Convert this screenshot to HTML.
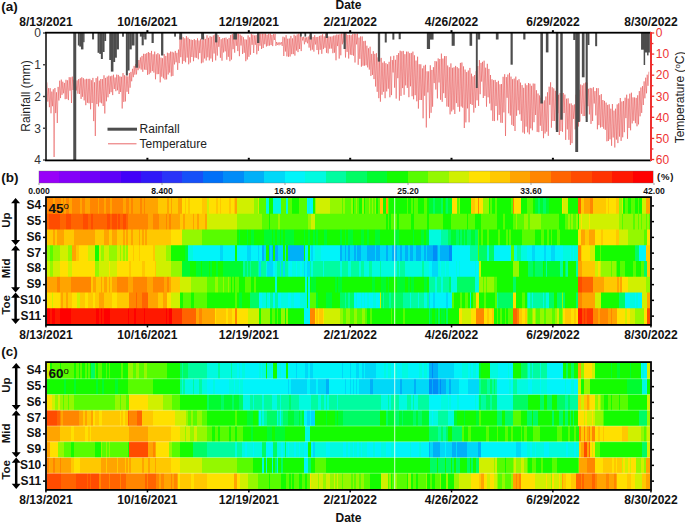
<!DOCTYPE html><html><head><meta charset="utf-8"><style>html,body{margin:0;padding:0;background:#fff}body{width:685px;height:522px;overflow:hidden}svg{display:block}text{font-family:"Liberation Sans",sans-serif}</style></head><body>
<svg width="685" height="522" viewBox="0 0 685 522">
<rect width="685" height="522" fill="#fff"/>
<text x="1.3" y="10.6" font-size="13.5" font-weight="bold" fill="#111">(a)</text>
<text x="348.5" y="9" font-size="12" font-weight="bold" text-anchor="middle" fill="#111">Date</text>
<text x="46.0" y="26" font-size="12" font-weight="bold" text-anchor="middle" fill="#111">8/13/2021</text>
<text x="147.4" y="26" font-size="12" font-weight="bold" text-anchor="middle" fill="#111">10/16/2021</text>
<text x="248.8" y="26" font-size="12" font-weight="bold" text-anchor="middle" fill="#111">12/19/2021</text>
<text x="350.2" y="26" font-size="12" font-weight="bold" text-anchor="middle" fill="#111">2/21/2022</text>
<text x="451.5" y="26" font-size="12" font-weight="bold" text-anchor="middle" fill="#111">4/26/2022</text>
<text x="552.9" y="26" font-size="12" font-weight="bold" text-anchor="middle" fill="#111">6/29/2022</text>
<text x="651.0" y="26" font-size="12" font-weight="bold" text-anchor="middle" fill="#111">8/30/2022</text>
<path d="M47.0 82.4 L47.8 101.6 L48.6 88.1 L49.4 107.2 L50.2 88.2 L51.0 113.3 L51.8 91.6 L52.5 106.2 L53.3 89.3 L54.1 157.0 L54.9 88.0 L55.7 113.1 L56.5 92.3 L57.3 123.0 L58.1 86.9 L58.9 100.5 L59.7 80.7 L60.5 98.1 L61.3 79.6 L62.0 94.8 L62.8 81.7 L63.6 93.3 L64.4 82.9 L65.2 99.2 L66.0 79.8 L66.8 98.9 L67.6 80.3 L68.4 100.1 L69.2 77.2 L70.0 90.7 L70.8 77.3 L71.5 103.0 L72.3 76.6 L73.1 90.0 L73.9 79.7 L74.7 91.9 L75.5 81.0 L76.3 90.5 L77.1 80.4 L77.9 93.7 L78.7 79.1 L79.5 94.0 L80.3 78.3 L81.1 98.9 L81.8 77.3 L82.6 96.8 L83.4 78.2 L84.2 100.4 L85.0 79.4 L85.8 105.2 L86.6 78.8 L87.4 102.8 L88.2 78.9 L89.0 103.3 L89.8 78.8 L90.6 109.3 L91.3 80.2 L92.1 103.0 L92.9 77.9 L93.7 121.1 L94.5 82.3 L95.3 136.0 L96.1 78.1 L96.9 104.1 L97.7 76.5 L98.5 106.4 L99.3 80.6 L100.1 102.5 L100.8 79.0 L101.6 103.3 L102.4 79.1 L103.2 106.0 L104.0 75.3 L104.8 113.5 L105.6 77.9 L106.4 101.3 L107.2 76.6 L108.0 97.3 L108.8 75.6 L109.6 93.9 L110.4 76.3 L111.1 92.2 L111.9 75.7 L112.7 95.1 L113.5 74.7 L114.3 89.0 L115.1 77.5 L115.9 91.2 L116.7 74.6 L117.5 90.3 L118.3 74.9 L119.1 94.0 L119.9 76.4 L120.6 92.0 L121.4 76.8 L122.2 108.5 L123.0 73.1 L123.8 101.9 L124.6 75.2 L125.4 101.4 L126.2 76.2 L127.0 91.8 L127.8 76.4 L128.6 94.0 L129.4 73.0 L130.1 87.7 L130.9 71.9 L131.7 81.3 L132.5 68.8 L133.3 77.2 L134.1 65.9 L134.9 74.7 L135.7 64.0 L136.5 74.4 L137.3 61.9 L138.1 70.2 L138.9 60.0 L139.7 68.4 L140.4 57.4 L141.2 69.6 L142.0 55.9 L142.8 71.8 L143.6 53.8 L144.4 69.6 L145.2 53.9 L146.0 69.9 L146.8 53.1 L147.6 74.9 L148.4 52.0 L149.2 74.2 L149.9 52.9 L150.7 72.7 L151.5 50.9 L152.3 71.1 L153.1 54.3 L153.9 72.6 L154.7 51.6 L155.5 79.3 L156.3 54.3 L157.1 74.2 L157.9 53.1 L158.7 74.1 L159.4 54.4 L160.2 82.4 L161.0 57.6 L161.8 76.7 L162.6 58.2 L163.4 78.3 L164.2 54.1 L165.0 79.6 L165.8 55.9 L166.6 79.4 L167.4 52.7 L168.2 74.5 L169.0 53.2 L169.7 72.6 L170.5 51.6 L171.3 76.4 L172.1 51.8 L172.9 75.9 L173.7 52.5 L174.5 64.4 L175.3 50.9 L176.1 62.3 L176.9 52.8 L177.7 69.9 L178.5 49.6 L179.2 63.1 L180.0 36.3 L180.8 57.2 L181.6 35.6 L182.4 63.8 L183.2 37.2 L184.0 61.1 L184.8 38.3 L185.6 62.3 L186.4 36.1 L187.2 57.6 L188.0 37.6 L188.7 64.3 L189.5 39.1 L190.3 62.6 L191.1 39.6 L191.9 57.0 L192.7 40.0 L193.5 61.2 L194.3 39.0 L195.1 57.6 L195.9 40.2 L196.7 57.9 L197.5 38.3 L198.3 59.3 L199.0 40.5 L199.8 53.1 L200.6 38.8 L201.4 63.3 L202.2 40.1 L203.0 62.5 L203.8 36.6 L204.6 58.5 L205.4 38.9 L206.2 60.5 L207.0 35.3 L207.8 57.3 L208.5 37.8 L209.3 60.4 L210.1 36.2 L210.9 58.5 L211.7 36.8 L212.5 61.8 L213.3 35.4 L214.1 53.5 L214.9 34.5 L215.7 60.4 L216.5 38.2 L217.3 55.6 L218.0 35.1 L218.8 46.8 L219.6 37.0 L220.4 57.8 L221.2 39.2 L222.0 60.7 L222.8 38.2 L223.6 52.5 L224.4 37.9 L225.2 51.4 L226.0 37.6 L226.8 59.7 L227.5 39.2 L228.3 56.8 L229.1 37.9 L229.9 61.2 L230.7 35.1 L231.5 59.6 L232.3 34.0 L233.1 49.2 L233.9 35.6 L234.7 52.7 L235.5 33.5 L236.3 45.8 L237.1 33.5 L237.8 51.1 L238.6 33.5 L239.4 56.2 L240.2 34.6 L241.0 45.5 L241.8 35.8 L242.6 54.0 L243.4 37.2 L244.2 52.8 L245.0 39.3 L245.8 61.2 L246.6 39.6 L247.3 59.5 L248.1 35.4 L248.9 56.8 L249.7 37.3 L250.5 54.7 L251.3 33.6 L252.1 44.8 L252.9 34.7 L253.7 53.0 L254.5 35.5 L255.3 44.8 L256.1 35.1 L256.8 54.3 L257.6 33.9 L258.4 50.9 L259.2 33.5 L260.0 45.7 L260.8 33.5 L261.6 49.0 L262.4 33.6 L263.2 48.0 L264.0 33.5 L264.8 44.3 L265.6 33.5 L266.4 46.5 L267.1 34.7 L267.9 45.8 L268.7 33.6 L269.5 45.6 L270.3 33.5 L271.1 45.1 L271.9 34.9 L272.7 46.1 L273.5 34.1 L274.3 40.0 L275.1 33.9 L275.9 45.8 L276.6 42.0 L277.4 44.9 L278.2 42.4 L279.0 45.3 L279.8 42.3 L280.6 44.5 L281.4 42.2 L282.2 45.9 L283.0 36.7 L283.8 56.0 L284.6 37.4 L285.4 51.5 L286.1 35.2 L286.9 56.4 L287.7 38.7 L288.5 56.8 L289.3 38.5 L290.1 56.5 L290.9 35.9 L291.7 54.2 L292.5 38.4 L293.3 54.1 L294.1 34.7 L294.9 55.6 L295.7 35.8 L296.4 50.6 L297.2 34.4 L298.0 52.1 L298.8 33.5 L299.6 49.0 L300.4 34.6 L301.2 51.1 L302.0 37.0 L302.8 40.5 L303.6 36.7 L304.4 44.3 L305.2 37.4 L305.9 42.2 L306.7 37.3 L307.5 43.3 L308.3 36.5 L309.1 47.6 L309.9 35.1 L310.7 50.5 L311.5 35.7 L312.3 49.7 L313.1 36.9 L313.9 51.6 L314.7 35.2 L315.4 44.5 L316.2 37.1 L317.0 50.0 L317.8 36.9 L318.6 54.3 L319.4 35.9 L320.2 49.8 L321.0 35.4 L321.8 53.8 L322.6 34.2 L323.4 49.1 L324.2 36.4 L325.0 47.8 L325.7 33.6 L326.5 52.8 L327.3 36.1 L328.1 53.4 L328.9 36.4 L329.7 48.7 L330.5 36.7 L331.3 48.6 L332.1 36.4 L332.9 53.2 L333.7 35.6 L334.5 52.7 L335.2 35.4 L336.0 60.3 L336.8 34.5 L337.6 46.1 L338.4 34.7 L339.2 58.6 L340.0 34.2 L340.8 55.3 L341.6 33.5 L342.4 44.3 L343.2 33.5 L344.0 42.6 L344.7 33.5 L345.5 57.5 L346.3 33.5 L347.1 51.9 L347.9 35.0 L348.7 58.5 L349.5 34.9 L350.3 54.7 L351.1 35.2 L351.9 55.1 L352.7 34.1 L353.5 55.7 L354.3 33.5 L355.0 62.5 L355.8 33.9 L356.6 44.4 L357.4 33.5 L358.2 64.8 L359.0 37.6 L359.8 58.8 L360.6 36.4 L361.4 66.7 L362.2 36.5 L363.0 65.7 L363.8 41.1 L364.5 65.7 L365.3 40.8 L366.1 65.3 L366.9 45.7 L367.7 67.4 L368.5 48.3 L369.3 69.6 L370.1 46.7 L370.9 75.9 L371.7 53.9 L372.5 74.9 L373.3 51.2 L374.0 79.1 L374.8 53.9 L375.6 86.5 L376.4 53.2 L377.2 91.8 L378.0 57.4 L378.8 98.2 L379.6 58.8 L380.4 101.7 L381.2 57.9 L382.0 94.7 L382.8 62.7 L383.6 91.8 L384.3 61.3 L385.1 98.2 L385.9 63.2 L386.7 91.4 L387.5 64.2 L388.3 88.7 L389.1 61.8 L389.9 97.3 L390.7 56.4 L391.5 95.1 L392.3 60.1 L393.1 72.5 L393.8 55.8 L394.6 87.7 L395.4 59.8 L396.2 98.6 L397.0 55.0 L397.8 78.2 L398.6 53.1 L399.4 100.6 L400.2 50.7 L401.0 95.9 L401.8 51.3 L402.6 88.1 L403.3 50.9 L404.1 94.8 L404.9 54.2 L405.7 85.4 L406.5 51.6 L407.3 87.9 L408.1 51.6 L408.9 97.2 L409.7 53.2 L410.5 86.3 L411.3 52.9 L412.1 96.2 L412.9 51.6 L413.6 99.3 L414.4 55.3 L415.2 95.2 L416.0 60.6 L416.8 101.3 L417.6 56.7 L418.4 108.6 L419.2 64.2 L420.0 100.0 L420.8 64.3 L421.6 100.0 L422.4 68.4 L423.1 118.3 L423.9 65.7 L424.7 95.8 L425.5 64.8 L426.3 127.5 L427.1 71.3 L427.9 92.4 L428.7 71.3 L429.5 118.2 L430.3 65.3 L431.1 112.8 L431.9 69.9 L432.6 106.7 L433.4 67.2 L434.2 83.1 L435.0 61.1 L435.8 89.5 L436.6 61.4 L437.4 98.4 L438.2 58.4 L439.0 82.5 L439.8 59.0 L440.6 99.8 L441.4 53.6 L442.2 101.8 L442.9 58.6 L443.7 93.2 L444.5 56.1 L445.3 98.0 L446.1 56.1 L446.9 106.5 L447.7 65.5 L448.5 106.8 L449.3 67.2 L450.1 114.4 L450.9 63.4 L451.7 111.4 L452.4 67.8 L453.2 109.7 L454.0 67.3 L454.8 114.0 L455.6 65.9 L456.4 103.1 L457.2 67.1 L458.0 106.9 L458.8 68.3 L459.6 111.6 L460.4 62.9 L461.2 106.5 L461.9 62.5 L462.7 107.7 L463.5 66.4 L464.3 128.0 L465.1 69.6 L465.9 122.4 L466.7 72.1 L467.5 108.4 L468.3 70.5 L469.1 122.3 L469.9 67.9 L470.7 104.0 L471.5 73.7 L472.2 105.0 L473.0 76.4 L473.8 112.6 L474.6 75.0 L475.4 107.8 L476.2 71.2 L477.0 100.3 L477.8 66.1 L478.6 105.9 L479.4 60.1 L480.2 94.2 L481.0 62.9 L481.7 81.6 L482.5 61.8 L483.3 98.0 L484.1 60.7 L484.9 95.9 L485.7 67.7 L486.5 106.7 L487.3 63.8 L488.1 97.3 L488.9 68.9 L489.7 103.5 L490.5 75.0 L491.2 110.4 L492.0 79.3 L492.8 120.9 L493.6 80.2 L494.4 121.1 L495.2 79.9 L496.0 106.0 L496.8 82.1 L497.6 120.4 L498.4 80.8 L499.2 114.9 L500.0 84.3 L500.8 122.7 L501.5 84.0 L502.3 122.9 L503.1 76.8 L503.9 112.4 L504.7 74.2 L505.5 136.0 L506.3 77.1 L507.1 97.8 L507.9 74.5 L508.7 113.3 L509.5 72.9 L510.3 115.5 L511.0 76.6 L511.8 124.8 L512.6 79.2 L513.4 126.0 L514.2 78.6 L515.0 131.0 L515.8 76.6 L516.6 115.8 L517.4 80.3 L518.2 110.3 L519.0 79.2 L519.8 114.3 L520.5 82.6 L521.3 120.8 L522.1 85.1 L522.9 132.5 L523.7 87.8 L524.5 133.7 L525.3 83.5 L526.1 126.6 L526.9 85.2 L527.7 132.4 L528.5 83.0 L529.3 134.3 L530.0 83.7 L530.8 128.4 L531.6 85.8 L532.4 130.3 L533.2 83.5 L534.0 122.2 L534.8 83.7 L535.6 115.0 L536.4 90.2 L537.2 131.9 L538.0 93.5 L538.8 132.2 L539.6 95.4 L540.3 125.7 L541.1 97.6 L541.9 131.0 L542.7 102.2 L543.5 138.2 L544.3 100.4 L545.1 133.5 L545.9 96.5 L546.7 131.7 L547.5 92.3 L548.3 135.8 L549.1 86.7 L549.8 104.8 L550.6 82.3 L551.4 127.7 L552.2 87.2 L553.0 121.0 L553.8 88.4 L554.6 121.0 L555.4 90.8 L556.2 129.6 L557.0 91.4 L557.8 113.2 L558.6 94.8 L559.3 135.0 L560.1 93.1 L560.9 131.1 L561.7 93.0 L562.5 131.8 L563.3 93.0 L564.1 113.0 L564.9 94.6 L565.7 139.9 L566.5 98.7 L567.3 129.4 L568.1 98.3 L568.9 139.8 L569.6 103.6 L570.4 145.0 L571.2 103.4 L572.0 143.2 L572.8 105.2 L573.6 118.9 L574.4 104.4 L575.2 129.4 L576.0 94.7 L576.8 124.9 L577.6 90.0 L578.4 126.5 L579.1 89.8 L579.9 121.5 L580.7 84.5 L581.5 113.8 L582.3 85.3 L583.1 116.1 L583.9 83.4 L584.7 116.0 L585.5 82.5 L586.3 118.1 L587.1 82.6 L587.9 106.2 L588.6 88.8 L589.4 114.4 L590.2 87.9 L591.0 123.9 L591.8 88.3 L592.6 121.0 L593.4 87.2 L594.2 103.5 L595.0 91.1 L595.8 115.4 L596.6 88.1 L597.4 129.3 L598.2 88.2 L598.9 125.1 L599.7 95.2 L600.5 127.5 L601.3 94.1 L602.1 126.9 L602.9 100.0 L603.7 128.7 L604.5 100.9 L605.3 129.8 L606.1 102.6 L606.9 141.3 L607.7 104.9 L608.4 141.0 L609.2 104.3 L610.0 139.3 L610.8 108.7 L611.6 145.8 L612.4 104.0 L613.2 137.5 L614.0 110.6 L614.8 147.5 L615.6 108.7 L616.4 139.6 L617.2 104.4 L617.9 143.1 L618.7 103.3 L619.5 136.6 L620.3 98.0 L621.1 140.9 L621.9 101.5 L622.7 137.3 L623.5 101.0 L624.3 132.2 L625.1 97.7 L625.9 118.1 L626.7 94.7 L627.5 138.8 L628.2 98.6 L629.0 128.0 L629.8 93.7 L630.6 130.3 L631.4 92.7 L632.2 123.4 L633.0 97.4 L633.8 120.8 L634.6 97.4 L635.4 123.2 L636.2 97.9 L637.0 126.3 L637.7 95.3 L638.5 124.4 L639.3 91.1 L640.1 116.3 L640.9 87.5 L641.7 112.9 L642.5 86.1 L643.3 105.0 L644.1 81.4 L644.9 98.3 L645.7 77.7 L646.5 93.3 L647.2 74.7 L648.0 85.8 L648.8 71.7" fill="none" stroke="#e44444" stroke-width="0.5" stroke-linejoin="bevel"/>
<g fill="#4d4d4d"><rect x="73.25" y="33" width="3.00" height="127.0"/>
<rect x="77.85" y="33" width="1.70" height="12.5"/>
<rect x="79.25" y="33" width="2.00" height="13.6"/>
<rect x="80.95" y="33" width="2.50" height="16.4"/>
<rect x="83.15" y="33" width="1.40" height="9.2"/>
<rect x="92.05" y="33" width="2.00" height="6.4"/>
<rect x="97.55" y="33" width="2.00" height="19.8"/>
<rect x="99.25" y="33" width="1.90" height="20.9"/>
<rect x="100.85" y="33" width="2.00" height="26.0"/>
<rect x="102.55" y="33" width="2.00" height="19.0"/>
<rect x="104.25" y="33" width="1.90" height="8.0"/>
<rect x="109.25" y="33" width="1.90" height="27.0"/>
<rect x="110.85" y="33" width="2.60" height="38.6"/>
<rect x="113.15" y="33" width="2.00" height="29.0"/>
<rect x="114.85" y="33" width="2.00" height="24.7"/>
<rect x="116.55" y="33" width="2.40" height="16.4"/>
<rect x="122.05" y="33" width="1.90" height="3.7"/>
<rect x="125.85" y="33" width="2.00" height="42.5"/>
<rect x="127.55" y="33" width="2.00" height="37.5"/>
<rect x="129.25" y="33" width="2.50" height="16.4"/>
<rect x="131.45" y="33" width="3.10" height="12.5"/>
<rect x="135.35" y="33" width="2.80" height="34.7"/>
<rect x="139.85" y="33" width="2.10" height="3.6"/>
<rect x="141.65" y="33" width="2.10" height="12.3"/>
<rect x="143.45" y="33" width="1.10" height="4.0"/>
<rect x="144.25" y="33" width="2.30" height="6.5"/>
<rect x="151.55" y="33" width="2.20" height="10.0"/>
<rect x="161.05" y="33" width="2.30" height="22.5"/>
<rect x="174.15" y="33" width="1.80" height="3.6"/>
<rect x="179.25" y="33" width="2.90" height="6.5"/>
<rect x="201.15" y="33" width="2.90" height="6.5"/>
<rect x="215.05" y="33" width="2.30" height="9.4"/>
<rect x="233.25" y="33" width="3.70" height="6.5"/>
<rect x="257.05" y="33" width="2.30" height="10.0"/>
<rect x="300.05" y="33" width="1.70" height="3.6"/>
<rect x="304.45" y="33" width="1.70" height="3.6"/>
<rect x="309.55" y="33" width="2.30" height="6.5"/>
<rect x="325.65" y="33" width="2.30" height="5.0"/>
<rect x="343.55" y="33" width="2.20" height="16.0"/>
<rect x="377.85" y="33" width="2.30" height="28.6"/>
<rect x="384.75" y="33" width="2.00" height="9.5"/>
<rect x="392.35" y="33" width="2.00" height="6.6"/>
<rect x="398.65" y="33" width="2.10" height="6.2"/>
<rect x="426.85" y="33" width="3.20" height="16.0"/>
<rect x="429.75" y="33" width="3.80" height="6.6"/>
<rect x="451.65" y="33" width="3.10" height="12.8"/>
<rect x="469.55" y="33" width="2.60" height="12.8"/>
<rect x="475.85" y="33" width="1.90" height="55.0"/>
<rect x="477.45" y="33" width="2.70" height="6.5"/>
<rect x="495.85" y="33" width="2.70" height="6.5"/>
<rect x="510.55" y="33" width="2.20" height="31.7"/>
<rect x="523.25" y="33" width="2.20" height="6.5"/>
<rect x="540.35" y="33" width="2.60" height="70.5"/>
<rect x="545.85" y="33" width="2.60" height="19.4"/>
<rect x="555.85" y="33" width="2.50" height="99.0"/>
<rect x="560.25" y="33" width="2.50" height="86.7"/>
<rect x="573.25" y="33" width="2.30" height="7.0"/>
<rect x="575.25" y="33" width="2.90" height="119.0"/>
<rect x="577.85" y="33" width="1.90" height="89.0"/>
<rect x="581.85" y="33" width="2.70" height="44.3"/>
<rect x="585.65" y="33" width="2.10" height="89.0"/>
<rect x="587.45" y="33" width="2.00" height="12.0"/>
<rect x="595.15" y="33" width="2.00" height="13.2"/>
<rect x="641.05" y="33" width="4.10" height="16.7"/>
<rect x="644.85" y="33" width="5.00" height="19.5"/>
<rect x="643.65" y="33" width="1.50" height="32.0"/>
<rect x="647.05" y="33" width="1.50" height="22.4"/></g>
<rect x="45" y="32" width="2" height="129" fill="#444"/>
<rect x="45" y="31.8" width="606" height="1.8" fill="#000"/>
<rect x="45" y="159.5" width="606" height="1.8" fill="#000"/>
<rect x="650" y="32" width="2" height="129" fill="#ee3030"/>
<rect x="43" y="32.30" width="2" height="1.4" fill="#444"/>
<text x="40.9" y="37.30" font-size="12" text-anchor="end" fill="#333">0</text>
<rect x="43" y="64.05" width="2" height="1.4" fill="#444"/>
<text x="40.9" y="69.05" font-size="12" text-anchor="end" fill="#333">1</text>
<rect x="43" y="95.80" width="2" height="1.4" fill="#444"/>
<text x="40.9" y="100.80" font-size="12" text-anchor="end" fill="#333">2</text>
<rect x="43" y="127.55" width="2" height="1.4" fill="#444"/>
<text x="40.9" y="132.55" font-size="12" text-anchor="end" fill="#333">3</text>
<rect x="43" y="159.30" width="2" height="1.4" fill="#444"/>
<text x="40.9" y="164.30" font-size="12" text-anchor="end" fill="#333">4</text>
<rect x="652" y="32.35" width="2.2" height="1.3" fill="#ee3030"/>
<text x="655.8" y="37.30" font-size="12" fill="#ee3333">0</text>
<rect x="652" y="42.89" width="1.4" height="1.3" fill="#ee3030"/>
<rect x="652" y="53.43" width="2.2" height="1.3" fill="#ee3030"/>
<text x="655.8" y="58.38" font-size="12" fill="#ee3333">10</text>
<rect x="652" y="63.98" width="1.4" height="1.3" fill="#ee3030"/>
<rect x="652" y="74.52" width="2.2" height="1.3" fill="#ee3030"/>
<text x="655.8" y="79.47" font-size="12" fill="#ee3333">20</text>
<rect x="652" y="85.06" width="1.4" height="1.3" fill="#ee3030"/>
<rect x="652" y="95.60" width="2.2" height="1.3" fill="#ee3030"/>
<text x="655.8" y="100.55" font-size="12" fill="#ee3333">30</text>
<rect x="652" y="106.14" width="1.4" height="1.3" fill="#ee3030"/>
<rect x="652" y="116.68" width="2.2" height="1.3" fill="#ee3030"/>
<text x="655.8" y="121.63" font-size="12" fill="#ee3333">40</text>
<rect x="652" y="127.22" width="1.4" height="1.3" fill="#ee3030"/>
<rect x="652" y="137.77" width="2.2" height="1.3" fill="#ee3030"/>
<text x="655.8" y="142.72" font-size="12" fill="#ee3333">50</text>
<rect x="652" y="148.31" width="1.4" height="1.3" fill="#ee3030"/>
<rect x="652" y="158.85" width="2.2" height="1.3" fill="#ee3030"/>
<text x="655.8" y="163.80" font-size="12" fill="#ee3333">60</text>
<rect x="146.4" y="30.2" width="2" height="2" fill="#000"/>
<rect x="146.4" y="157.8" width="2" height="2" fill="#000"/>
<rect x="247.8" y="30.2" width="2" height="2" fill="#000"/>
<rect x="247.8" y="157.8" width="2" height="2" fill="#000"/>
<rect x="349.2" y="30.2" width="2" height="2" fill="#000"/>
<rect x="349.2" y="157.8" width="2" height="2" fill="#000"/>
<rect x="450.5" y="30.2" width="2" height="2" fill="#000"/>
<rect x="450.5" y="157.8" width="2" height="2" fill="#000"/>
<rect x="551.9" y="30.2" width="2" height="2" fill="#000"/>
<rect x="551.9" y="157.8" width="2" height="2" fill="#000"/>
<text transform="translate(29.8,96) rotate(-90)" font-size="12" text-anchor="middle" fill="#222">Rainfall (mm)</text>
<text transform="translate(684.2,97.4) rotate(-90)" font-size="12" text-anchor="middle" fill="#222">Temperature (<tspan font-size="8" dy="-4">o</tspan><tspan dy="4">C)</tspan></text>
<rect x="107.5" y="127.7" width="29.5" height="3" fill="#4d4d4d"/>
<rect x="108" y="143.3" width="28.5" height="1" fill="#e8686a"/>
<text x="139.6" y="133.2" font-size="12" fill="#222">Rainfall</text>
<text x="139.6" y="148.4" font-size="12" fill="#222">Temperature</text>
<rect x="38.96" y="171" width="21.08" height="12" fill="#9800f8" shape-rendering="crispEdges"/>
<rect x="59.44" y="171" width="21.08" height="12" fill="#8400f8" shape-rendering="crispEdges"/>
<rect x="79.92" y="171" width="21.08" height="12" fill="#7000f8" shape-rendering="crispEdges"/>
<rect x="100.40" y="171" width="21.08" height="12" fill="#5e00f8" shape-rendering="crispEdges"/>
<rect x="120.88" y="171" width="21.08" height="12" fill="#4200f8" shape-rendering="crispEdges"/>
<rect x="141.36" y="171" width="21.08" height="12" fill="#3018f8" shape-rendering="crispEdges"/>
<rect x="161.84" y="171" width="21.08" height="12" fill="#2a34f8" shape-rendering="crispEdges"/>
<rect x="182.32" y="171" width="21.08" height="12" fill="#1650f8" shape-rendering="crispEdges"/>
<rect x="202.80" y="171" width="21.08" height="12" fill="#0070f8" shape-rendering="crispEdges"/>
<rect x="223.28" y="171" width="21.08" height="12" fill="#008cf8" shape-rendering="crispEdges"/>
<rect x="243.76" y="171" width="21.08" height="12" fill="#00b0f8" shape-rendering="crispEdges"/>
<rect x="264.24" y="171" width="21.08" height="12" fill="#00d8f8" shape-rendering="crispEdges"/>
<rect x="284.72" y="171" width="21.08" height="12" fill="#00f4fa" shape-rendering="crispEdges"/>
<rect x="305.20" y="171" width="21.08" height="12" fill="#00fae0" shape-rendering="crispEdges"/>
<rect x="325.68" y="171" width="21.08" height="12" fill="#00fca0" shape-rendering="crispEdges"/>
<rect x="346.16" y="171" width="21.08" height="12" fill="#00fc64" shape-rendering="crispEdges"/>
<rect x="366.64" y="171" width="21.08" height="12" fill="#00fc30" shape-rendering="crispEdges"/>
<rect x="387.12" y="171" width="21.08" height="12" fill="#14fc00" shape-rendering="crispEdges"/>
<rect x="407.60" y="171" width="21.08" height="12" fill="#58fc00" shape-rendering="crispEdges"/>
<rect x="428.08" y="171" width="21.08" height="12" fill="#94f800" shape-rendering="crispEdges"/>
<rect x="448.56" y="171" width="21.08" height="12" fill="#d0f000" shape-rendering="crispEdges"/>
<rect x="469.04" y="171" width="21.08" height="12" fill="#ffe000" shape-rendering="crispEdges"/>
<rect x="489.52" y="171" width="21.08" height="12" fill="#ffc800" shape-rendering="crispEdges"/>
<rect x="510.00" y="171" width="21.08" height="12" fill="#ffa400" shape-rendering="crispEdges"/>
<rect x="530.48" y="171" width="21.08" height="12" fill="#ff8600" shape-rendering="crispEdges"/>
<rect x="550.96" y="171" width="21.08" height="12" fill="#ff6400" shape-rendering="crispEdges"/>
<rect x="571.44" y="171" width="21.08" height="12" fill="#ff4c00" shape-rendering="crispEdges"/>
<rect x="591.92" y="171" width="21.08" height="12" fill="#ff3400" shape-rendering="crispEdges"/>
<rect x="612.40" y="171" width="21.08" height="12" fill="#ff1800" shape-rendering="crispEdges"/>
<rect x="632.88" y="171" width="20.48" height="12" fill="#ff0000" shape-rendering="crispEdges"/>
<rect x="38.96" y="171" width="614.4" height="12" fill="none" stroke="#666" stroke-width="0.5" stroke-opacity="0.7"/>
<rect x="38.6" y="183" width="0.8" height="2" fill="#888"/>
<text x="39.0" y="194.2" font-size="8.6" font-weight="bold" text-anchor="middle" fill="#111">0.000</text>
<rect x="161.6" y="183" width="0.8" height="2" fill="#888"/>
<text x="162.0" y="194.2" font-size="8.6" font-weight="bold" text-anchor="middle" fill="#111">8.400</text>
<rect x="284.6" y="183" width="0.8" height="2" fill="#888"/>
<text x="285.0" y="194.2" font-size="8.6" font-weight="bold" text-anchor="middle" fill="#111">16.80</text>
<rect x="407.6" y="183" width="0.8" height="2" fill="#888"/>
<text x="408.0" y="194.2" font-size="8.6" font-weight="bold" text-anchor="middle" fill="#111">25.20</text>
<rect x="530.6" y="183" width="0.8" height="2" fill="#888"/>
<text x="531.0" y="194.2" font-size="8.6" font-weight="bold" text-anchor="middle" fill="#111">33.60</text>
<rect x="653.6" y="183" width="0.8" height="2" fill="#888"/>
<text x="654.0" y="194.2" font-size="8.6" font-weight="bold" text-anchor="middle" fill="#111">42.00</text>
<text x="657" y="180.2" font-size="9.6" font-weight="bold" fill="#111" letter-spacing="0.7">(%)</text>
<g>
<path fill="#00f4fa" d="M307 198.00h1v16.55h-1zM310 198.00h3v16.55h-3z"/>
<path fill="#00fae0" d="M266 198.00h3v16.55h-3zM273 198.00h8v16.55h-8zM286 198.00h2v16.55h-2zM308 198.00h2v16.55h-2z"/>
<path fill="#00fc64" d="M433 198.00h2v16.55h-2zM441 198.00h2v16.55h-2zM446 198.00h2v16.55h-2zM538 198.00h2v16.55h-2zM543 198.00h3v16.55h-3z"/>
<path fill="#00fc30" d="M429 198.00h4v16.55h-4zM435 198.00h6v16.55h-6zM445 198.00h1v16.55h-1zM448 198.00h4v16.55h-4zM535 198.00h3v16.55h-3zM540 198.00h3v16.55h-3zM546 198.00h3v16.55h-3z"/>
<path fill="#14fc00" d="M269 198.00h4v16.55h-4zM292 198.00h7v16.55h-7zM313 198.00h2v16.55h-2zM353 198.00h1v16.55h-1zM359 198.00h3v16.55h-3zM364 198.00h1v16.55h-1zM376 198.00h2v16.55h-2zM383 198.00h3v16.55h-3zM389 198.00h18v16.55h-18zM408 198.00h3v16.55h-3zM413 198.00h1v16.55h-1zM418 198.00h6v16.55h-6zM427 198.00h2v16.55h-2zM443 198.00h2v16.55h-2zM460 198.00h11v16.55h-11zM489 198.00h1v16.55h-1zM492 198.00h3v16.55h-3zM497 198.00h14v16.55h-14zM521 198.00h6v16.55h-6zM533 198.00h2v16.55h-2zM549 198.00h13v16.55h-13zM568 198.00h10v16.55h-10zM623 198.00h2v16.55h-2zM628 198.00h3v16.55h-3zM635 198.00h3v16.55h-3zM639 198.00h3v16.55h-3z"/>
<path fill="#58fc00" d="M259 198.00h7v16.55h-7zM281 198.00h5v16.55h-5zM288 198.00h4v16.55h-4zM299 198.00h8v16.55h-8zM342 198.00h1v16.55h-1zM345 198.00h6v16.55h-6zM354 198.00h2v16.55h-2zM357 198.00h2v16.55h-2zM365 198.00h4v16.55h-4zM370 198.00h2v16.55h-2zM373 198.00h2v16.55h-2zM378 198.00h2v16.55h-2zM388 198.00h1v16.55h-1zM407 198.00h1v16.55h-1zM411 198.00h2v16.55h-2zM414 198.00h4v16.55h-4zM424 198.00h3v16.55h-3zM457 198.00h2v16.55h-2zM490 198.00h2v16.55h-2zM495 198.00h2v16.55h-2zM511 198.00h2v16.55h-2zM527 198.00h6v16.55h-6zM625 198.00h3v16.55h-3zM631 198.00h4v16.55h-4zM638 198.00h1v16.55h-1z"/>
<path fill="#94f800" d="M254 198.00h4v16.55h-4zM315 198.00h1v16.55h-1zM330 198.00h12v16.55h-12zM343 198.00h2v16.55h-2zM351 198.00h2v16.55h-2zM356 198.00h1v16.55h-1zM362 198.00h2v16.55h-2zM369 198.00h1v16.55h-1zM372 198.00h1v16.55h-1zM375 198.00h1v16.55h-1zM459 198.00h1v16.55h-1zM483 198.00h6v16.55h-6zM619 198.00h3v16.55h-3z"/>
<path fill="#d0f000" d="M207 198.00h2v16.55h-2zM237 198.00h17v16.55h-17zM258 198.00h1v16.55h-1zM316 198.00h14v16.55h-14zM563 198.00h5v16.55h-5zM622 198.00h1v16.55h-1zM642 198.00h4v16.55h-4z"/>
<path fill="#ffe000" d="M182 198.00h3v16.55h-3zM186 198.00h2v16.55h-2zM190 198.00h12v16.55h-12zM209 198.00h7v16.55h-7zM218 198.00h2v16.55h-2zM221 198.00h8v16.55h-8zM231 198.00h3v16.55h-3zM452 198.00h5v16.55h-5zM475 198.00h3v16.55h-3zM479 198.00h4v16.55h-4zM514 198.00h7v16.55h-7zM562 198.00h1v16.55h-1zM606 198.00h2v16.55h-2zM609 198.00h7v16.55h-7z"/>
<path fill="#ffc800" d="M158 198.00h9v16.55h-9zM169 198.00h2v16.55h-2zM172 198.00h6v16.55h-6zM185 198.00h1v16.55h-1zM188 198.00h2v16.55h-2zM202 198.00h5v16.55h-5zM216 198.00h2v16.55h-2zM220 198.00h1v16.55h-1zM229 198.00h2v16.55h-2zM234 198.00h1v16.55h-1zM380 198.00h3v16.55h-3zM471 198.00h4v16.55h-4zM581 198.00h3v16.55h-3zM593 198.00h13v16.55h-13zM608 198.00h1v16.55h-1zM616 198.00h3v16.55h-3z"/>
<path fill="#ffa400" d="M53 198.00h2v16.55h-2zM61 198.00h2v16.55h-2zM64 198.00h2v16.55h-2zM69 198.00h3v16.55h-3zM80 198.00h2v16.55h-2zM85 198.00h5v16.55h-5zM98 198.00h1v16.55h-1zM104 198.00h2v16.55h-2zM110 198.00h2v16.55h-2zM123 198.00h3v16.55h-3zM129 198.00h2v16.55h-2zM133 198.00h7v16.55h-7zM142 198.00h2v16.55h-2zM145 198.00h13v16.55h-13zM167 198.00h2v16.55h-2zM171 198.00h1v16.55h-1zM178 198.00h4v16.55h-4zM235 198.00h2v16.55h-2zM386 198.00h2v16.55h-2zM584 198.00h6v16.55h-6zM646 198.00h4v16.55h-4z"/>
<path fill="#ff8600" d="M47 198.00h6v16.55h-6zM55 198.00h6v16.55h-6zM63 198.00h1v16.55h-1zM66 198.00h3v16.55h-3zM72 198.00h8v16.55h-8zM82 198.00h3v16.55h-3zM90 198.00h8v16.55h-8zM99 198.00h5v16.55h-5zM106 198.00h4v16.55h-4zM112 198.00h11v16.55h-11zM126 198.00h3v16.55h-3zM131 198.00h2v16.55h-2zM140 198.00h2v16.55h-2zM144 198.00h1v16.55h-1zM478 198.00h1v16.55h-1zM513 198.00h1v16.55h-1zM590 198.00h3v16.55h-3z"/>
<path fill="#ff6400" d="M578 198.00h3v16.55h-3z"/>
</g>
<g>
<path fill="#14fc00" d="M269 213.75h1v16.55h-1zM386 213.75h2v16.55h-2zM389 213.75h2v16.55h-2zM397 213.75h2v16.55h-2zM411 213.75h3v16.55h-3zM427 213.75h2v16.55h-2zM443 213.75h8v16.55h-8zM467 213.75h1v16.55h-1zM475 213.75h6v16.55h-6zM497 213.75h6v16.55h-6zM505 213.75h8v16.55h-8zM559 213.75h6v16.55h-6zM578 213.75h1v16.55h-1z"/>
<path fill="#58fc00" d="M262 213.75h7v16.55h-7zM270 213.75h8v16.55h-8zM280 213.75h28v16.55h-28zM315 213.75h71v16.55h-71zM388 213.75h1v16.55h-1zM391 213.75h6v16.55h-6zM399 213.75h12v16.55h-12zM414 213.75h13v16.55h-13zM429 213.75h14v16.55h-14zM451 213.75h16v16.55h-16zM468 213.75h7v16.55h-7zM481 213.75h16v16.55h-16zM503 213.75h2v16.55h-2zM513 213.75h3v16.55h-3zM517 213.75h7v16.55h-7zM528 213.75h2v16.55h-2zM541 213.75h18v16.55h-18zM565 213.75h3v16.55h-3zM570 213.75h1v16.55h-1zM573 213.75h3v16.55h-3zM622 213.75h1v16.55h-1zM633 213.75h2v16.55h-2zM638 213.75h1v16.55h-1zM641 213.75h1v16.55h-1zM646 213.75h1v16.55h-1zM649 213.75h1v16.55h-1z"/>
<path fill="#94f800" d="M237 213.75h25v16.55h-25zM278 213.75h2v16.55h-2zM308 213.75h3v16.55h-3zM516 213.75h1v16.55h-1zM524 213.75h4v16.55h-4zM530 213.75h11v16.55h-11zM568 213.75h2v16.55h-2zM571 213.75h2v16.55h-2zM576 213.75h2v16.55h-2zM619 213.75h3v16.55h-3zM623 213.75h10v16.55h-10zM635 213.75h3v16.55h-3zM639 213.75h2v16.55h-2zM642 213.75h4v16.55h-4zM647 213.75h2v16.55h-2z"/>
<path fill="#d0f000" d="M207 213.75h30v16.55h-30zM311 213.75h4v16.55h-4zM579 213.75h2v16.55h-2zM582 213.75h7v16.55h-7zM590 213.75h29v16.55h-29z"/>
<path fill="#ffe000" d="M581 213.75h1v16.55h-1zM589 213.75h1v16.55h-1z"/>
<path fill="#ffc800" d="M180 213.75h3v16.55h-3zM185 213.75h8v16.55h-8zM194 213.75h3v16.55h-3zM199 213.75h6v16.55h-6z"/>
<path fill="#ffa400" d="M148 213.75h5v16.55h-5zM159 213.75h7v16.55h-7zM167 213.75h2v16.55h-2zM171 213.75h9v16.55h-9zM183 213.75h2v16.55h-2zM193 213.75h1v16.55h-1zM197 213.75h2v16.55h-2zM205 213.75h2v16.55h-2z"/>
<path fill="#ff8600" d="M128 213.75h20v16.55h-20zM153 213.75h6v16.55h-6zM166 213.75h1v16.55h-1zM169 213.75h2v16.55h-2z"/>
<path fill="#ff6400" d="M47 213.75h2v16.55h-2zM60 213.75h6v16.55h-6zM71 213.75h12v16.55h-12zM88 213.75h3v16.55h-3zM93 213.75h14v16.55h-14zM110 213.75h2v16.55h-2zM117 213.75h1v16.55h-1zM120 213.75h3v16.55h-3zM126 213.75h2v16.55h-2z"/>
<path fill="#ff4c00" d="M49 213.75h11v16.55h-11zM66 213.75h5v16.55h-5zM83 213.75h5v16.55h-5zM91 213.75h2v16.55h-2zM107 213.75h3v16.55h-3zM112 213.75h5v16.55h-5zM118 213.75h2v16.55h-2zM123 213.75h3v16.55h-3z"/>
</g>
<g>
<path fill="#00fae0" d="M429 229.50h12v16.55h-12z"/>
<path fill="#00fca0" d="M441 229.50h7v16.55h-7z"/>
<path fill="#00fc64" d="M448 229.50h3v16.55h-3zM456 229.50h3v16.55h-3zM460 229.50h2v16.55h-2zM464 229.50h1v16.55h-1zM467 229.50h4v16.55h-4zM475 229.50h3v16.55h-3z"/>
<path fill="#00fc30" d="M239 229.50h1v16.55h-1zM247 229.50h1v16.55h-1zM251 229.50h3v16.55h-3zM264 229.50h8v16.55h-8zM273 229.50h2v16.55h-2zM277 229.50h3v16.55h-3zM281 229.50h2v16.55h-2zM285 229.50h9v16.55h-9zM304 229.50h1v16.55h-1zM308 229.50h2v16.55h-2zM313 229.50h2v16.55h-2zM316 229.50h2v16.55h-2zM324 229.50h3v16.55h-3zM340 229.50h2v16.55h-2zM345 229.50h1v16.55h-1zM348 229.50h5v16.55h-5zM361 229.50h3v16.55h-3zM367 229.50h2v16.55h-2zM375 229.50h5v16.55h-5zM394 229.50h5v16.55h-5zM413 229.50h1v16.55h-1zM421 229.50h3v16.55h-3zM426 229.50h3v16.55h-3zM451 229.50h5v16.55h-5zM459 229.50h1v16.55h-1zM462 229.50h2v16.55h-2zM465 229.50h2v16.55h-2zM471 229.50h4v16.55h-4z"/>
<path fill="#14fc00" d="M237 229.50h2v16.55h-2zM240 229.50h7v16.55h-7zM248 229.50h3v16.55h-3zM254 229.50h10v16.55h-10zM272 229.50h1v16.55h-1zM275 229.50h2v16.55h-2zM280 229.50h1v16.55h-1zM283 229.50h2v16.55h-2zM294 229.50h10v16.55h-10zM305 229.50h3v16.55h-3zM310 229.50h3v16.55h-3zM315 229.50h1v16.55h-1zM318 229.50h6v16.55h-6zM327 229.50h13v16.55h-13zM342 229.50h3v16.55h-3zM346 229.50h2v16.55h-2zM353 229.50h8v16.55h-8zM364 229.50h3v16.55h-3zM369 229.50h6v16.55h-6zM380 229.50h14v16.55h-14zM399 229.50h14v16.55h-14zM414 229.50h7v16.55h-7zM424 229.50h2v16.55h-2zM479 229.50h2v16.55h-2zM483 229.50h4v16.55h-4zM489 229.50h9v16.55h-9zM500 229.50h6v16.55h-6zM508 229.50h1v16.55h-1zM511 229.50h11v16.55h-11zM535 229.50h6v16.55h-6zM544 229.50h3v16.55h-3zM549 229.50h2v16.55h-2zM552 229.50h5v16.55h-5zM560 229.50h18v16.55h-18z"/>
<path fill="#58fc00" d="M202 229.50h35v16.55h-35zM478 229.50h1v16.55h-1zM481 229.50h2v16.55h-2zM487 229.50h2v16.55h-2zM498 229.50h2v16.55h-2zM506 229.50h2v16.55h-2zM509 229.50h2v16.55h-2zM522 229.50h13v16.55h-13zM541 229.50h3v16.55h-3zM547 229.50h2v16.55h-2zM551 229.50h1v16.55h-1zM557 229.50h3v16.55h-3zM644 229.50h3v16.55h-3z"/>
<path fill="#94f800" d="M182 229.50h20v16.55h-20zM628 229.50h16v16.55h-16z"/>
<path fill="#d0f000" d="M619 229.50h9v16.55h-9z"/>
<path fill="#ffe000" d="M171 229.50h11v16.55h-11zM578 229.50h3v16.55h-3zM595 229.50h6v16.55h-6zM603 229.50h13v16.55h-13zM647 229.50h3v16.55h-3z"/>
<path fill="#ffc800" d="M47 229.50h6v16.55h-6zM55 229.50h2v16.55h-2zM64 229.50h10v16.55h-10zM95 229.50h9v16.55h-9zM109 229.50h3v16.55h-3zM117 229.50h6v16.55h-6zM125 229.50h1v16.55h-1zM128 229.50h3v16.55h-3zM133 229.50h6v16.55h-6zM140 229.50h2v16.55h-2zM144 229.50h1v16.55h-1zM147 229.50h24v16.55h-24zM585 229.50h4v16.55h-4zM601 229.50h2v16.55h-2zM616 229.50h3v16.55h-3z"/>
<path fill="#ffa400" d="M53 229.50h2v16.55h-2zM57 229.50h7v16.55h-7zM74 229.50h21v16.55h-21zM104 229.50h5v16.55h-5zM112 229.50h5v16.55h-5zM123 229.50h2v16.55h-2zM126 229.50h2v16.55h-2zM131 229.50h2v16.55h-2zM139 229.50h1v16.55h-1zM142 229.50h2v16.55h-2zM145 229.50h2v16.55h-2zM581 229.50h4v16.55h-4zM589 229.50h6v16.55h-6z"/>
</g>
<g>
<path fill="#008cf8" d="M433 245.25h4v16.55h-4zM449 245.25h3v16.55h-3z"/>
<path fill="#00b0f8" d="M262 245.25h2v16.55h-2zM269 245.25h1v16.55h-1zM272 245.25h1v16.55h-1zM275 245.25h3v16.55h-3zM288 245.25h16v16.55h-16zM340 245.25h2v16.55h-2zM345 245.25h1v16.55h-1zM348 245.25h2v16.55h-2zM354 245.25h2v16.55h-2zM357 245.25h4v16.55h-4zM367 245.25h8v16.55h-8zM376 245.25h4v16.55h-4zM386 245.25h2v16.55h-2zM392 245.25h5v16.55h-5zM400 245.25h2v16.55h-2zM405 245.25h3v16.55h-3zM410 245.25h3v16.55h-3zM416 245.25h5v16.55h-5zM424 245.25h2v16.55h-2zM427 245.25h6v16.55h-6zM437 245.25h1v16.55h-1zM440 245.25h9v16.55h-9z"/>
<path fill="#00d8f8" d="M220 245.25h3v16.55h-3zM247 245.25h4v16.55h-4zM258 245.25h1v16.55h-1zM264 245.25h2v16.55h-2zM270 245.25h2v16.55h-2zM278 245.25h5v16.55h-5zM285 245.25h1v16.55h-1zM311 245.25h2v16.55h-2zM342 245.25h3v16.55h-3zM346 245.25h2v16.55h-2zM350 245.25h4v16.55h-4zM356 245.25h1v16.55h-1zM361 245.25h6v16.55h-6zM375 245.25h1v16.55h-1zM380 245.25h6v16.55h-6zM388 245.25h4v16.55h-4zM397 245.25h3v16.55h-3zM402 245.25h3v16.55h-3zM408 245.25h2v16.55h-2zM413 245.25h3v16.55h-3zM421 245.25h3v16.55h-3zM426 245.25h1v16.55h-1zM438 245.25h2v16.55h-2zM532 245.25h3v16.55h-3zM544 245.25h2v16.55h-2zM551 245.25h4v16.55h-4z"/>
<path fill="#00f4fa" d="M193 245.25h27v16.55h-27zM223 245.25h12v16.55h-12zM237 245.25h10v16.55h-10zM251 245.25h7v16.55h-7zM259 245.25h3v16.55h-3zM305 245.25h3v16.55h-3zM310 245.25h1v16.55h-1zM313 245.25h2v16.55h-2zM321 245.25h19v16.55h-19zM452 245.25h18v16.55h-18zM494 245.25h17v16.55h-17zM527 245.25h5v16.55h-5zM535 245.25h9v16.55h-9zM546 245.25h5v16.55h-5zM555 245.25h8v16.55h-8zM570 245.25h1v16.55h-1zM573 245.25h1v16.55h-1zM639 245.25h7v16.55h-7z"/>
<path fill="#00fae0" d="M188 245.25h5v16.55h-5zM315 245.25h6v16.55h-6zM487 245.25h2v16.55h-2zM514 245.25h3v16.55h-3zM521 245.25h6v16.55h-6zM563 245.25h7v16.55h-7zM571 245.25h2v16.55h-2zM574 245.25h4v16.55h-4z"/>
<path fill="#00fca0" d="M470 245.25h8v16.55h-8zM517 245.25h4v16.55h-4z"/>
<path fill="#00fc64" d="M479 245.25h8v16.55h-8zM489 245.25h5v16.55h-5zM635 245.25h4v16.55h-4z"/>
<path fill="#00fc30" d="M185 245.25h3v16.55h-3z"/>
<path fill="#14fc00" d="M95 245.25h4v16.55h-4zM171 245.25h14v16.55h-14zM235 245.25h2v16.55h-2zM266 245.25h3v16.55h-3zM273 245.25h2v16.55h-2zM283 245.25h2v16.55h-2zM286 245.25h2v16.55h-2zM304 245.25h1v16.55h-1zM308 245.25h2v16.55h-2zM595 245.25h5v16.55h-5zM601 245.25h34v16.55h-34z"/>
<path fill="#58fc00" d="M50 245.25h3v16.55h-3zM478 245.25h1v16.55h-1zM511 245.25h3v16.55h-3zM600 245.25h1v16.55h-1z"/>
<path fill="#94f800" d="M47 245.25h3v16.55h-3zM53 245.25h7v16.55h-7zM68 245.25h4v16.55h-4zM101 245.25h3v16.55h-3zM109 245.25h8v16.55h-8zM120 245.25h1v16.55h-1zM123 245.25h2v16.55h-2zM126 245.25h2v16.55h-2zM166 245.25h5v16.55h-5z"/>
<path fill="#d0f000" d="M60 245.25h8v16.55h-8zM88 245.25h7v16.55h-7zM99 245.25h2v16.55h-2zM104 245.25h5v16.55h-5zM117 245.25h3v16.55h-3zM121 245.25h2v16.55h-2zM125 245.25h1v16.55h-1zM155 245.25h11v16.55h-11zM590 245.25h5v16.55h-5z"/>
<path fill="#ffe000" d="M79 245.25h9v16.55h-9zM128 245.25h5v16.55h-5zM134 245.25h5v16.55h-5zM140 245.25h13v16.55h-13zM582 245.25h8v16.55h-8z"/>
<path fill="#ffc800" d="M76 245.25h3v16.55h-3zM133 245.25h1v16.55h-1zM139 245.25h1v16.55h-1zM153 245.25h2v16.55h-2zM581 245.25h1v16.55h-1zM646 245.25h4v16.55h-4z"/>
<path fill="#ffa400" d="M72 245.25h4v16.55h-4z"/>
<path fill="#ff8600" d="M578 245.25h3v16.55h-3z"/>
</g>
<g>
<path fill="#00d8f8" d="M259 261.00h2v16.55h-2zM267 261.00h6v16.55h-6zM280 261.00h1v16.55h-1zM283 261.00h2v16.55h-2zM304 261.00h1v16.55h-1zM307 261.00h3v16.55h-3zM432 261.00h6v16.55h-6z"/>
<path fill="#00f4fa" d="M273 261.00h2v16.55h-2zM289 261.00h3v16.55h-3zM296 261.00h1v16.55h-1zM300 261.00h2v16.55h-2zM305 261.00h2v16.55h-2zM429 261.00h3v16.55h-3zM440 261.00h1v16.55h-1zM445 261.00h1v16.55h-1zM449 261.00h7v16.55h-7zM457 261.00h2v16.55h-2zM460 261.00h15v16.55h-15zM476 261.00h2v16.55h-2z"/>
<path fill="#00fae0" d="M266 261.00h1v16.55h-1zM275 261.00h2v16.55h-2zM288 261.00h1v16.55h-1zM292 261.00h4v16.55h-4zM297 261.00h3v16.55h-3zM302 261.00h2v16.55h-2zM311 261.00h2v16.55h-2zM323 261.00h1v16.55h-1zM340 261.00h2v16.55h-2zM348 261.00h3v16.55h-3zM359 261.00h2v16.55h-2zM364 261.00h5v16.55h-5zM372 261.00h8v16.55h-8zM381 261.00h16v16.55h-16zM399 261.00h1v16.55h-1zM405 261.00h17v16.55h-17zM424 261.00h5v16.55h-5zM438 261.00h2v16.55h-2zM441 261.00h4v16.55h-4zM446 261.00h3v16.55h-3zM456 261.00h1v16.55h-1zM459 261.00h1v16.55h-1zM475 261.00h1v16.55h-1zM478 261.00h1v16.55h-1z"/>
<path fill="#00fca0" d="M243 261.00h2v16.55h-2zM247 261.00h1v16.55h-1zM250 261.00h1v16.55h-1zM258 261.00h1v16.55h-1zM261 261.00h5v16.55h-5zM277 261.00h3v16.55h-3zM281 261.00h2v16.55h-2zM285 261.00h3v16.55h-3zM310 261.00h1v16.55h-1zM313 261.00h10v16.55h-10zM324 261.00h16v16.55h-16zM342 261.00h6v16.55h-6zM351 261.00h8v16.55h-8zM361 261.00h3v16.55h-3zM369 261.00h3v16.55h-3zM380 261.00h1v16.55h-1zM397 261.00h2v16.55h-2zM400 261.00h5v16.55h-5zM422 261.00h2v16.55h-2zM546 261.00h1v16.55h-1zM560 261.00h3v16.55h-3zM566 261.00h2v16.55h-2zM576 261.00h2v16.55h-2z"/>
<path fill="#00fc64" d="M245 261.00h2v16.55h-2zM248 261.00h2v16.55h-2zM251 261.00h7v16.55h-7zM528 261.00h5v16.55h-5zM535 261.00h8v16.55h-8zM565 261.00h1v16.55h-1zM644 261.00h3v16.55h-3z"/>
<path fill="#00fc30" d="M182 261.00h8v16.55h-8zM196 261.00h5v16.55h-5zM202 261.00h7v16.55h-7zM210 261.00h2v16.55h-2zM216 261.00h2v16.55h-2zM223 261.00h20v16.55h-20zM533 261.00h2v16.55h-2zM544 261.00h2v16.55h-2zM547 261.00h13v16.55h-13z"/>
<path fill="#14fc00" d="M190 261.00h6v16.55h-6zM201 261.00h1v16.55h-1zM209 261.00h1v16.55h-1zM212 261.00h4v16.55h-4zM218 261.00h5v16.55h-5zM481 261.00h32v16.55h-32zM519 261.00h9v16.55h-9zM543 261.00h1v16.55h-1zM563 261.00h2v16.55h-2zM568 261.00h8v16.55h-8zM617 261.00h3v16.55h-3zM625 261.00h8v16.55h-8zM636 261.00h5v16.55h-5z"/>
<path fill="#58fc00" d="M611 261.00h1v16.55h-1zM616 261.00h1v16.55h-1zM620 261.00h5v16.55h-5zM633 261.00h3v16.55h-3zM641 261.00h3v16.55h-3z"/>
<path fill="#94f800" d="M50 261.00h3v16.55h-3zM95 261.00h4v16.55h-4zM171 261.00h11v16.55h-11zM513 261.00h6v16.55h-6zM601 261.00h10v16.55h-10zM612 261.00h4v16.55h-4z"/>
<path fill="#d0f000" d="M47 261.00h3v16.55h-3zM53 261.00h7v16.55h-7zM68 261.00h4v16.55h-4zM99 261.00h10v16.55h-10zM110 261.00h7v16.55h-7zM156 261.00h15v16.55h-15zM479 261.00h2v16.55h-2zM595 261.00h3v16.55h-3zM600 261.00h1v16.55h-1z"/>
<path fill="#ffe000" d="M60 261.00h8v16.55h-8zM72 261.00h23v16.55h-23zM109 261.00h1v16.55h-1zM117 261.00h12v16.55h-12zM131 261.00h11v16.55h-11zM145 261.00h10v16.55h-10zM598 261.00h2v16.55h-2z"/>
<path fill="#ffc800" d="M129 261.00h2v16.55h-2zM142 261.00h3v16.55h-3zM155 261.00h1v16.55h-1zM582 261.00h13v16.55h-13zM647 261.00h3v16.55h-3z"/>
<path fill="#ffa400" d="M578 261.00h4v16.55h-4z"/>
</g>
<g>
<path fill="#00fae0" d="M275 276.75h2v16.55h-2zM305 276.75h2v16.55h-2zM308 276.75h2v16.55h-2zM435 276.75h2v16.55h-2zM441 276.75h2v16.55h-2zM451 276.75h6v16.55h-6zM475 276.75h4v16.55h-4z"/>
<path fill="#00fca0" d="M429 276.75h6v16.55h-6zM437 276.75h4v16.55h-4zM443 276.75h6v16.55h-6z"/>
<path fill="#00fc64" d="M449 276.75h2v16.55h-2zM457 276.75h18v16.55h-18zM513 276.75h3v16.55h-3z"/>
<path fill="#00fc30" d="M311 276.75h5v16.55h-5zM335 276.75h2v16.55h-2zM338 276.75h4v16.55h-4zM372 276.75h3v16.55h-3zM381 276.75h5v16.55h-5zM388 276.75h1v16.55h-1zM397 276.75h8v16.55h-8zM408 276.75h2v16.55h-2zM411 276.75h3v16.55h-3zM424 276.75h3v16.55h-3z"/>
<path fill="#14fc00" d="M231 276.75h1v16.55h-1zM234 276.75h1v16.55h-1zM239 276.75h6v16.55h-6zM251 276.75h3v16.55h-3zM256 276.75h19v16.55h-19zM277 276.75h28v16.55h-28zM307 276.75h1v16.55h-1zM310 276.75h1v16.55h-1zM316 276.75h19v16.55h-19zM337 276.75h1v16.55h-1zM342 276.75h30v16.55h-30zM375 276.75h6v16.55h-6zM386 276.75h2v16.55h-2zM389 276.75h8v16.55h-8zM405 276.75h3v16.55h-3zM410 276.75h1v16.55h-1zM414 276.75h10v16.55h-10zM427 276.75h2v16.55h-2zM497 276.75h16v16.55h-16zM516 276.75h62v16.55h-62z"/>
<path fill="#58fc00" d="M207 276.75h8v16.55h-8zM218 276.75h5v16.55h-5zM224 276.75h4v16.55h-4zM229 276.75h2v16.55h-2zM232 276.75h2v16.55h-2zM235 276.75h4v16.55h-4zM245 276.75h6v16.55h-6zM254 276.75h2v16.55h-2zM483 276.75h1v16.55h-1zM486 276.75h1v16.55h-1zM494 276.75h3v16.55h-3z"/>
<path fill="#94f800" d="M191 276.75h16v16.55h-16zM215 276.75h3v16.55h-3zM223 276.75h1v16.55h-1zM228 276.75h1v16.55h-1zM479 276.75h4v16.55h-4zM484 276.75h2v16.55h-2zM487 276.75h7v16.55h-7zM646 276.75h4v16.55h-4z"/>
<path fill="#d0f000" d="M180 276.75h11v16.55h-11zM628 276.75h18v16.55h-18z"/>
<path fill="#ffe000" d="M622 276.75h6v16.55h-6z"/>
<path fill="#ffc800" d="M91 276.75h2v16.55h-2zM96 276.75h5v16.55h-5zM102 276.75h2v16.55h-2zM107 276.75h2v16.55h-2zM110 276.75h2v16.55h-2zM171 276.75h9v16.55h-9zM604 276.75h13v16.55h-13zM619 276.75h1v16.55h-1z"/>
<path fill="#ffa400" d="M47 276.75h10v16.55h-10zM60 276.75h11v16.55h-11zM93 276.75h3v16.55h-3zM101 276.75h1v16.55h-1zM104 276.75h3v16.55h-3zM109 276.75h1v16.55h-1zM112 276.75h5v16.55h-5zM128 276.75h5v16.55h-5zM147 276.75h6v16.55h-6zM164 276.75h3v16.55h-3zM169 276.75h2v16.55h-2zM593 276.75h11v16.55h-11zM617 276.75h2v16.55h-2zM620 276.75h2v16.55h-2z"/>
<path fill="#ff8600" d="M57 276.75h3v16.55h-3zM71 276.75h20v16.55h-20zM117 276.75h11v16.55h-11zM133 276.75h14v16.55h-14zM153 276.75h11v16.55h-11zM167 276.75h2v16.55h-2z"/>
<path fill="#ff6400" d="M582 276.75h11v16.55h-11z"/>
<path fill="#ff4c00" d="M578 276.75h4v16.55h-4z"/>
</g>
<g>
<path fill="#00d8f8" d="M429 292.50h1v16.55h-1zM433 292.50h2v16.55h-2zM446 292.50h2v16.55h-2z"/>
<path fill="#00f4fa" d="M259 292.50h3v16.55h-3zM269 292.50h1v16.55h-1zM273 292.50h2v16.55h-2zM278 292.50h3v16.55h-3zM288 292.50h3v16.55h-3zM294 292.50h6v16.55h-6zM308 292.50h2v16.55h-2zM354 292.50h2v16.55h-2zM357 292.50h4v16.55h-4zM362 292.50h2v16.55h-2zM365 292.50h2v16.55h-2zM369 292.50h4v16.55h-4zM376 292.50h4v16.55h-4zM430 292.50h3v16.55h-3zM435 292.50h11v16.55h-11zM448 292.50h4v16.55h-4zM625 292.50h5v16.55h-5zM635 292.50h1v16.55h-1zM638 292.50h4v16.55h-4z"/>
<path fill="#00fae0" d="M262 292.50h4v16.55h-4zM267 292.50h2v16.55h-2zM281 292.50h7v16.55h-7zM291 292.50h3v16.55h-3zM300 292.50h7v16.55h-7zM356 292.50h1v16.55h-1zM361 292.50h1v16.55h-1zM364 292.50h1v16.55h-1zM367 292.50h2v16.55h-2zM373 292.50h3v16.55h-3zM410 292.50h1v16.55h-1zM418 292.50h1v16.55h-1zM424 292.50h3v16.55h-3zM470 292.50h1v16.55h-1zM528 292.50h2v16.55h-2zM532 292.50h1v16.55h-1zM543 292.50h1v16.55h-1zM546 292.50h3v16.55h-3zM630 292.50h5v16.55h-5zM636 292.50h2v16.55h-2z"/>
<path fill="#00fca0" d="M266 292.50h1v16.55h-1zM270 292.50h3v16.55h-3zM275 292.50h3v16.55h-3zM345 292.50h1v16.55h-1zM348 292.50h2v16.55h-2zM383 292.50h1v16.55h-1zM389 292.50h2v16.55h-2zM394 292.50h1v16.55h-1zM403 292.50h7v16.55h-7zM411 292.50h7v16.55h-7zM419 292.50h5v16.55h-5zM427 292.50h2v16.55h-2zM497 292.50h1v16.55h-1zM527 292.50h1v16.55h-1zM530 292.50h2v16.55h-2zM533 292.50h10v16.55h-10zM544 292.50h2v16.55h-2z"/>
<path fill="#00fc64" d="M250 292.50h9v16.55h-9zM340 292.50h5v16.55h-5zM346 292.50h2v16.55h-2zM350 292.50h4v16.55h-4zM381 292.50h2v16.55h-2zM384 292.50h5v16.55h-5zM391 292.50h3v16.55h-3zM395 292.50h8v16.55h-8zM498 292.50h15v16.55h-15zM549 292.50h5v16.55h-5zM557 292.50h5v16.55h-5zM563 292.50h2v16.55h-2zM576 292.50h2v16.55h-2zM619 292.50h6v16.55h-6z"/>
<path fill="#00fc30" d="M239 292.50h3v16.55h-3zM316 292.50h2v16.55h-2zM326 292.50h6v16.55h-6z"/>
<path fill="#14fc00" d="M180 292.50h3v16.55h-3zM191 292.50h3v16.55h-3zM207 292.50h28v16.55h-28zM237 292.50h2v16.55h-2zM242 292.50h8v16.55h-8zM307 292.50h1v16.55h-1zM318 292.50h8v16.55h-8zM332 292.50h8v16.55h-8zM454 292.50h6v16.55h-6zM462 292.50h3v16.55h-3zM468 292.50h2v16.55h-2zM471 292.50h2v16.55h-2zM479 292.50h5v16.55h-5zM486 292.50h9v16.55h-9zM516 292.50h6v16.55h-6zM525 292.50h2v16.55h-2zM554 292.50h3v16.55h-3zM565 292.50h11v16.55h-11zM601 292.50h18v16.55h-18z"/>
<path fill="#58fc00" d="M183 292.50h8v16.55h-8zM194 292.50h13v16.55h-13zM235 292.50h2v16.55h-2zM310 292.50h6v16.55h-6zM452 292.50h2v16.55h-2zM460 292.50h2v16.55h-2zM465 292.50h3v16.55h-3zM473 292.50h3v16.55h-3zM484 292.50h2v16.55h-2zM495 292.50h2v16.55h-2zM522 292.50h3v16.55h-3z"/>
<path fill="#94f800" d="M562 292.50h1v16.55h-1z"/>
<path fill="#d0f000" d="M52 292.50h1v16.55h-1zM77 292.50h3v16.55h-3zM171 292.50h9v16.55h-9zM380 292.50h1v16.55h-1zM595 292.50h6v16.55h-6zM642 292.50h5v16.55h-5z"/>
<path fill="#ffe000" d="M47 292.50h5v16.55h-5zM53 292.50h7v16.55h-7zM72 292.50h5v16.55h-5zM85 292.50h3v16.55h-3zM93 292.50h2v16.55h-2zM112 292.50h5v16.55h-5zM167 292.50h4v16.55h-4zM476 292.50h3v16.55h-3zM513 292.50h3v16.55h-3z"/>
<path fill="#ffc800" d="M60 292.50h1v16.55h-1zM63 292.50h3v16.55h-3zM68 292.50h4v16.55h-4zM80 292.50h5v16.55h-5zM88 292.50h5v16.55h-5zM95 292.50h4v16.55h-4zM104 292.50h8v16.55h-8zM117 292.50h12v16.55h-12zM158 292.50h5v16.55h-5z"/>
<path fill="#ffa400" d="M61 292.50h2v16.55h-2zM66 292.50h2v16.55h-2zM99 292.50h5v16.55h-5zM148 292.50h10v16.55h-10zM163 292.50h4v16.55h-4zM582 292.50h13v16.55h-13zM647 292.50h3v16.55h-3z"/>
<path fill="#ff8600" d="M129 292.50h7v16.55h-7zM137 292.50h5v16.55h-5zM578 292.50h4v16.55h-4z"/>
<path fill="#ff6400" d="M136 292.50h1v16.55h-1zM142 292.50h6v16.55h-6z"/>
</g>
<g>
<path fill="#00f4fa" d="M304 308.25h6v15.75h-6z"/>
<path fill="#00fc64" d="M429 308.25h1v15.75h-1zM438 308.25h2v15.75h-2zM446 308.25h2v15.75h-2z"/>
<path fill="#00fc30" d="M430 308.25h2v15.75h-2zM435 308.25h2v15.75h-2zM441 308.25h4v15.75h-4z"/>
<path fill="#14fc00" d="M259 308.25h2v15.75h-2zM270 308.25h2v15.75h-2zM275 308.25h2v15.75h-2zM278 308.25h3v15.75h-3zM285 308.25h1v15.75h-1zM288 308.25h16v15.75h-16zM367 308.25h3v15.75h-3zM372 308.25h19v15.75h-19zM392 308.25h2v15.75h-2zM395 308.25h8v15.75h-8zM405 308.25h24v15.75h-24zM432 308.25h3v15.75h-3zM437 308.25h1v15.75h-1zM440 308.25h1v15.75h-1zM445 308.25h1v15.75h-1zM448 308.25h11v15.75h-11zM494 308.25h3v15.75h-3zM498 308.25h2v15.75h-2zM502 308.25h3v15.75h-3zM506 308.25h2v15.75h-2z"/>
<path fill="#58fc00" d="M272 308.25h3v15.75h-3zM277 308.25h1v15.75h-1zM343 308.25h3v15.75h-3zM350 308.25h4v15.75h-4zM357 308.25h5v15.75h-5zM365 308.25h2v15.75h-2zM370 308.25h2v15.75h-2zM391 308.25h1v15.75h-1zM394 308.25h1v15.75h-1zM403 308.25h2v15.75h-2zM497 308.25h1v15.75h-1zM500 308.25h2v15.75h-2zM505 308.25h1v15.75h-1zM508 308.25h5v15.75h-5zM528 308.25h4v15.75h-4zM536 308.25h4v15.75h-4zM544 308.25h2v15.75h-2zM552 308.25h3v15.75h-3zM559 308.25h3v15.75h-3z"/>
<path fill="#94f800" d="M261 308.25h9v15.75h-9zM281 308.25h4v15.75h-4zM286 308.25h2v15.75h-2zM340 308.25h3v15.75h-3zM346 308.25h4v15.75h-4zM354 308.25h3v15.75h-3zM362 308.25h3v15.75h-3zM527 308.25h1v15.75h-1zM532 308.25h1v15.75h-1zM535 308.25h1v15.75h-1zM540 308.25h4v15.75h-4zM546 308.25h6v15.75h-6zM555 308.25h2v15.75h-2zM562 308.25h1v15.75h-1zM635 308.25h9v15.75h-9z"/>
<path fill="#d0f000" d="M248 308.25h11v15.75h-11zM324 308.25h16v15.75h-16zM462 308.25h9v15.75h-9zM533 308.25h2v15.75h-2zM557 308.25h2v15.75h-2zM625 308.25h2v15.75h-2zM630 308.25h5v15.75h-5z"/>
<path fill="#ffe000" d="M215 308.25h1v15.75h-1zM226 308.25h2v15.75h-2zM232 308.25h3v15.75h-3zM237 308.25h11v15.75h-11zM315 308.25h1v15.75h-1zM318 308.25h1v15.75h-1zM323 308.25h1v15.75h-1zM459 308.25h3v15.75h-3zM471 308.25h5v15.75h-5zM484 308.25h3v15.75h-3zM489 308.25h3v15.75h-3zM522 308.25h3v15.75h-3zM563 308.25h2v15.75h-2zM571 308.25h3v15.75h-3zM576 308.25h2v15.75h-2zM617 308.25h8v15.75h-8zM627 308.25h3v15.75h-3zM644 308.25h3v15.75h-3z"/>
<path fill="#ffc800" d="M216 308.25h10v15.75h-10zM228 308.25h4v15.75h-4zM316 308.25h2v15.75h-2zM319 308.25h4v15.75h-4zM487 308.25h2v15.75h-2zM492 308.25h2v15.75h-2zM519 308.25h3v15.75h-3zM525 308.25h2v15.75h-2zM565 308.25h6v15.75h-6zM574 308.25h2v15.75h-2z"/>
<path fill="#ffa400" d="M196 308.25h3v15.75h-3zM202 308.25h13v15.75h-13zM598 308.25h2v15.75h-2zM608 308.25h3v15.75h-3zM612 308.25h5v15.75h-5z"/>
<path fill="#ff8600" d="M199 308.25h3v15.75h-3zM235 308.25h2v15.75h-2zM310 308.25h5v15.75h-5zM476 308.25h8v15.75h-8zM517 308.25h2v15.75h-2zM593 308.25h5v15.75h-5zM600 308.25h8v15.75h-8zM611 308.25h1v15.75h-1z"/>
<path fill="#ff6400" d="M182 308.25h14v15.75h-14zM513 308.25h4v15.75h-4z"/>
<path fill="#ff4c00" d="M582 308.25h2v15.75h-2zM585 308.25h2v15.75h-2zM647 308.25h3v15.75h-3z"/>
<path fill="#ff3400" d="M172 308.25h10v15.75h-10zM584 308.25h1v15.75h-1zM587 308.25h6v15.75h-6z"/>
<path fill="#ff1800" d="M50 308.25h2v15.75h-2zM55 308.25h5v15.75h-5zM71 308.25h25v15.75h-25zM99 308.25h2v15.75h-2zM102 308.25h2v15.75h-2zM110 308.25h18v15.75h-18zM129 308.25h5v15.75h-5zM136 308.25h8v15.75h-8zM145 308.25h21v15.75h-21zM167 308.25h2v15.75h-2zM578 308.25h4v15.75h-4z"/>
<path fill="#ff0000" d="M47 308.25h3v15.75h-3zM52 308.25h3v15.75h-3zM60 308.25h11v15.75h-11zM96 308.25h3v15.75h-3zM101 308.25h1v15.75h-1zM104 308.25h6v15.75h-6zM128 308.25h1v15.75h-1zM134 308.25h2v15.75h-2zM144 308.25h1v15.75h-1zM166 308.25h1v15.75h-1zM169 308.25h3v15.75h-3z"/>
</g>
<rect x="394.2" y="198.0" width="1" height="126" fill="#f4fff4" opacity="0.85"/>
<rect x="46" y="197.10" width="605" height="127.80" fill="none" stroke="#000" stroke-width="1.8"/>
<rect x="43" y="205.12" width="2.5" height="1.5" fill="#000"/>
<rect x="651.5" y="205.12" width="2.5" height="1.5" fill="#000"/>
<text x="41.3" y="209.47" font-size="12" font-weight="bold" text-anchor="end" fill="#111">S4</text>
<rect x="43" y="220.88" width="2.5" height="1.5" fill="#000"/>
<rect x="651.5" y="220.88" width="2.5" height="1.5" fill="#000"/>
<text x="41.3" y="225.22" font-size="12" font-weight="bold" text-anchor="end" fill="#111">S5</text>
<rect x="43" y="236.62" width="2.5" height="1.5" fill="#000"/>
<rect x="651.5" y="236.62" width="2.5" height="1.5" fill="#000"/>
<text x="41.3" y="240.97" font-size="12" font-weight="bold" text-anchor="end" fill="#111">S6</text>
<rect x="43" y="252.38" width="2.5" height="1.5" fill="#000"/>
<rect x="651.5" y="252.38" width="2.5" height="1.5" fill="#000"/>
<text x="41.3" y="256.73" font-size="12" font-weight="bold" text-anchor="end" fill="#111">S7</text>
<rect x="43" y="268.12" width="2.5" height="1.5" fill="#000"/>
<rect x="651.5" y="268.12" width="2.5" height="1.5" fill="#000"/>
<text x="41.3" y="272.48" font-size="12" font-weight="bold" text-anchor="end" fill="#111">S8</text>
<rect x="43" y="283.88" width="2.5" height="1.5" fill="#000"/>
<rect x="651.5" y="283.88" width="2.5" height="1.5" fill="#000"/>
<text x="41.3" y="288.23" font-size="12" font-weight="bold" text-anchor="end" fill="#111">S9</text>
<rect x="43" y="299.62" width="2.5" height="1.5" fill="#000"/>
<rect x="651.5" y="299.62" width="2.5" height="1.5" fill="#000"/>
<text x="41.3" y="303.98" font-size="12" font-weight="bold" text-anchor="end" fill="#111">S10</text>
<rect x="43" y="315.38" width="2.5" height="1.5" fill="#000"/>
<rect x="651.5" y="315.38" width="2.5" height="1.5" fill="#000"/>
<text x="41.3" y="319.73" font-size="12" font-weight="bold" text-anchor="end" fill="#111">S11</text>
<rect x="45.2" y="324.9" width="1.5" height="2.5" fill="#000"/>
<rect x="146.7" y="324.9" width="1.5" height="2.5" fill="#000"/>
<rect x="248.1" y="324.9" width="1.5" height="2.5" fill="#000"/>
<rect x="349.4" y="324.9" width="1.5" height="2.5" fill="#000"/>
<rect x="450.8" y="324.9" width="1.5" height="2.5" fill="#000"/>
<rect x="552.1" y="324.9" width="1.5" height="2.5" fill="#000"/>
<rect x="650.2" y="324.9" width="1.5" height="2.5" fill="#000"/>
<text x="46.0" y="338.5" font-size="12" font-weight="bold" text-anchor="middle" fill="#111">8/13/2021</text>
<text x="147.4" y="338.5" font-size="12" font-weight="bold" text-anchor="middle" fill="#111">10/16/2021</text>
<text x="248.8" y="338.5" font-size="12" font-weight="bold" text-anchor="middle" fill="#111">12/19/2021</text>
<text x="350.2" y="338.5" font-size="12" font-weight="bold" text-anchor="middle" fill="#111">2/21/2022</text>
<text x="451.5" y="338.5" font-size="12" font-weight="bold" text-anchor="middle" fill="#111">4/26/2022</text>
<text x="552.9" y="338.5" font-size="12" font-weight="bold" text-anchor="middle" fill="#111">6/29/2022</text>
<text x="651.0" y="338.5" font-size="12" font-weight="bold" text-anchor="middle" fill="#111">8/30/2022</text>
<text x="48.5" y="212.8" font-size="13.5" font-weight="bold" fill="#111">45<tspan font-size="9.5" font-weight="normal" dy="-4.2">o</tspan></text>
<text x="1.3" y="181.6" font-size="13.5" font-weight="bold" fill="#111">(b)</text>
<path d="M15.6 201.0 L15.6 242.2" stroke="#000" stroke-width="2.5"/>
<path d="M15.6 198.0 l-4.5 5.3 h9 z M15.6 245.2 l-4.5 -5.3 h9 z" fill="#000"/>
<text transform="translate(9.6,220.1) rotate(-90)" font-size="11.5" font-weight="bold" text-anchor="middle" fill="#111">Up</text>
<path d="M15.6 248.2 L15.6 289.5" stroke="#000" stroke-width="2.5"/>
<path d="M15.6 245.2 l-4.5 5.3 h9 z M15.6 292.5 l-4.5 -5.3 h9 z" fill="#000"/>
<text transform="translate(9.6,268.4) rotate(-90)" font-size="11.5" font-weight="bold" text-anchor="middle" fill="#111">Mid</text>
<path d="M15.6 295.5 L15.6 321.0" stroke="#000" stroke-width="2.5"/>
<path d="M15.6 292.5 l-4.5 5.3 h9 z M15.6 324.0 l-4.5 -5.3 h9 z" fill="#000"/>
<text transform="translate(9.6,304.8) rotate(-90)" font-size="11.5" font-weight="bold" text-anchor="middle" fill="#111">Toe</text>
<g>
<path fill="#008cf8" d="M432 363.00h1v16.55h-1z"/>
<path fill="#00b0f8" d="M429 363.00h3v16.55h-3zM433 363.00h5v16.55h-5z"/>
<path fill="#00d8f8" d="M296 363.00h1v16.55h-1zM305 363.00h3v16.55h-3zM310 363.00h3v16.55h-3zM342 363.00h1v16.55h-1zM350 363.00h1v16.55h-1zM356 363.00h3v16.55h-3zM362 363.00h2v16.55h-2zM365 363.00h11v16.55h-11zM438 363.00h16v16.55h-16z"/>
<path fill="#00f4fa" d="M237 363.00h2v16.55h-2zM240 363.00h2v16.55h-2zM245 363.00h14v16.55h-14zM261 363.00h1v16.55h-1zM272 363.00h1v16.55h-1zM277 363.00h3v16.55h-3zM281 363.00h5v16.55h-5zM288 363.00h8v16.55h-8zM297 363.00h8v16.55h-8zM308 363.00h2v16.55h-2zM313 363.00h29v16.55h-29zM343 363.00h7v16.55h-7zM351 363.00h5v16.55h-5zM359 363.00h3v16.55h-3zM364 363.00h1v16.55h-1zM376 363.00h8v16.55h-8zM386 363.00h2v16.55h-2zM391 363.00h3v16.55h-3zM397 363.00h5v16.55h-5zM408 363.00h11v16.55h-11zM422 363.00h2v16.55h-2zM427 363.00h2v16.55h-2zM454 363.00h8v16.55h-8zM468 363.00h2v16.55h-2zM471 363.00h2v16.55h-2zM476 363.00h2v16.55h-2zM498 363.00h10v16.55h-10zM509 363.00h4v16.55h-4zM547 363.00h16v16.55h-16zM641 363.00h1v16.55h-1zM644 363.00h3v16.55h-3z"/>
<path fill="#00fae0" d="M207 363.00h11v16.55h-11zM220 363.00h11v16.55h-11zM232 363.00h5v16.55h-5zM239 363.00h1v16.55h-1zM242 363.00h3v16.55h-3zM259 363.00h2v16.55h-2zM262 363.00h4v16.55h-4zM267 363.00h5v16.55h-5zM280 363.00h1v16.55h-1zM384 363.00h2v16.55h-2zM388 363.00h3v16.55h-3zM394 363.00h3v16.55h-3zM402 363.00h6v16.55h-6zM419 363.00h3v16.55h-3zM424 363.00h3v16.55h-3zM462 363.00h6v16.55h-6zM470 363.00h1v16.55h-1zM473 363.00h3v16.55h-3zM478 363.00h1v16.55h-1zM490 363.00h8v16.55h-8zM508 363.00h1v16.55h-1zM528 363.00h2v16.55h-2zM532 363.00h1v16.55h-1zM540 363.00h1v16.55h-1zM642 363.00h2v16.55h-2z"/>
<path fill="#00fca0" d="M182 363.00h1v16.55h-1zM188 363.00h19v16.55h-19zM218 363.00h2v16.55h-2zM231 363.00h1v16.55h-1zM527 363.00h1v16.55h-1zM530 363.00h2v16.55h-2zM533 363.00h7v16.55h-7zM541 363.00h6v16.55h-6z"/>
<path fill="#00fc64" d="M91 363.00h4v16.55h-4zM180 363.00h2v16.55h-2zM183 363.00h5v16.55h-5zM521 363.00h6v16.55h-6zM566 363.00h2v16.55h-2zM571 363.00h3v16.55h-3z"/>
<path fill="#00fc30" d="M479 363.00h2v16.55h-2zM611 363.00h1v16.55h-1zM617 363.00h3v16.55h-3zM630 363.00h1v16.55h-1z"/>
<path fill="#14fc00" d="M50 363.00h2v16.55h-2zM60 363.00h1v16.55h-1zM74 363.00h2v16.55h-2zM79 363.00h1v16.55h-1zM82 363.00h3v16.55h-3zM87 363.00h1v16.55h-1zM90 363.00h1v16.55h-1zM96 363.00h2v16.55h-2zM102 363.00h4v16.55h-4zM107 363.00h2v16.55h-2zM110 363.00h11v16.55h-11zM123 363.00h5v16.55h-5zM167 363.00h13v16.55h-13zM266 363.00h1v16.55h-1zM273 363.00h4v16.55h-4zM286 363.00h2v16.55h-2zM481 363.00h9v16.55h-9zM513 363.00h8v16.55h-8zM563 363.00h3v16.55h-3zM568 363.00h3v16.55h-3zM574 363.00h4v16.55h-4zM595 363.00h16v16.55h-16zM612 363.00h5v16.55h-5zM620 363.00h10v16.55h-10zM631 363.00h10v16.55h-10z"/>
<path fill="#58fc00" d="M52 363.00h8v16.55h-8zM61 363.00h13v16.55h-13zM76 363.00h3v16.55h-3zM80 363.00h2v16.55h-2zM85 363.00h2v16.55h-2zM88 363.00h2v16.55h-2zM95 363.00h1v16.55h-1zM98 363.00h4v16.55h-4zM106 363.00h1v16.55h-1zM109 363.00h1v16.55h-1zM121 363.00h2v16.55h-2zM133 363.00h3v16.55h-3zM139 363.00h5v16.55h-5zM147 363.00h20v16.55h-20z"/>
<path fill="#94f800" d="M128 363.00h5v16.55h-5zM136 363.00h3v16.55h-3zM144 363.00h3v16.55h-3zM581 363.00h3v16.55h-3z"/>
<path fill="#d0f000" d="M47 363.00h3v16.55h-3zM592 363.00h3v16.55h-3zM647 363.00h3v16.55h-3z"/>
<path fill="#ffe000" d="M584 363.00h8v16.55h-8z"/>
<path fill="#ffa400" d="M578 363.00h3v16.55h-3z"/>
</g>
<g>
<path fill="#008cf8" d="M429 378.75h3v16.55h-3zM433 378.75h5v16.55h-5zM440 378.75h1v16.55h-1z"/>
<path fill="#00b0f8" d="M326 378.75h3v16.55h-3zM370 378.75h3v16.55h-3zM400 378.75h2v16.55h-2zM414 378.75h2v16.55h-2zM432 378.75h1v16.55h-1zM438 378.75h2v16.55h-2zM441 378.75h5v16.55h-5zM449 378.75h2v16.55h-2z"/>
<path fill="#00d8f8" d="M288 378.75h1v16.55h-1zM291 378.75h16v16.55h-16zM310 378.75h6v16.55h-6zM318 378.75h8v16.55h-8zM345 378.75h1v16.55h-1zM350 378.75h1v16.55h-1zM353 378.75h1v16.55h-1zM356 378.75h1v16.55h-1zM359 378.75h11v16.55h-11zM373 378.75h27v16.55h-27zM402 378.75h12v16.55h-12zM416 378.75h13v16.55h-13zM446 378.75h3v16.55h-3zM451 378.75h8v16.55h-8zM468 378.75h11v16.55h-11z"/>
<path fill="#00f4fa" d="M207 378.75h6v16.55h-6zM215 378.75h14v16.55h-14zM234 378.75h1v16.55h-1zM239 378.75h1v16.55h-1zM243 378.75h45v16.55h-45zM289 378.75h2v16.55h-2zM307 378.75h3v16.55h-3zM316 378.75h2v16.55h-2zM329 378.75h16v16.55h-16zM346 378.75h4v16.55h-4zM351 378.75h2v16.55h-2zM354 378.75h2v16.55h-2zM357 378.75h2v16.55h-2zM459 378.75h9v16.55h-9zM497 378.75h12v16.55h-12zM511 378.75h2v16.55h-2zM528 378.75h4v16.55h-4zM540 378.75h1v16.55h-1zM547 378.75h18v16.55h-18zM566 378.75h5v16.55h-5zM574 378.75h4v16.55h-4zM646 378.75h1v16.55h-1z"/>
<path fill="#00fae0" d="M182 378.75h1v16.55h-1zM185 378.75h8v16.55h-8zM194 378.75h5v16.55h-5zM202 378.75h5v16.55h-5zM213 378.75h2v16.55h-2zM229 378.75h5v16.55h-5zM235 378.75h4v16.55h-4zM240 378.75h3v16.55h-3zM509 378.75h2v16.55h-2zM517 378.75h11v16.55h-11zM532 378.75h8v16.55h-8zM541 378.75h6v16.55h-6zM565 378.75h1v16.55h-1zM571 378.75h3v16.55h-3zM642 378.75h4v16.55h-4z"/>
<path fill="#00fca0" d="M180 378.75h2v16.55h-2zM183 378.75h2v16.55h-2zM193 378.75h1v16.55h-1zM199 378.75h3v16.55h-3zM479 378.75h2v16.55h-2zM487 378.75h3v16.55h-3zM492 378.75h2v16.55h-2zM495 378.75h2v16.55h-2zM513 378.75h4v16.55h-4z"/>
<path fill="#00fc64" d="M481 378.75h6v16.55h-6zM490 378.75h2v16.55h-2zM494 378.75h1v16.55h-1z"/>
<path fill="#00fc30" d="M64 378.75h2v16.55h-2zM74 378.75h2v16.55h-2zM96 378.75h2v16.55h-2zM102 378.75h2v16.55h-2zM115 378.75h3v16.55h-3zM627 378.75h15v16.55h-15z"/>
<path fill="#14fc00" d="M47 378.75h17v16.55h-17zM66 378.75h8v16.55h-8zM76 378.75h20v16.55h-20zM98 378.75h4v16.55h-4zM104 378.75h11v16.55h-11zM118 378.75h10v16.55h-10zM153 378.75h27v16.55h-27zM581 378.75h3v16.55h-3zM590 378.75h37v16.55h-37zM647 378.75h3v16.55h-3z"/>
<path fill="#58fc00" d="M128 378.75h25v16.55h-25z"/>
<path fill="#94f800" d="M584 378.75h6v16.55h-6z"/>
<path fill="#d0f000" d="M578 378.75h3v16.55h-3z"/>
</g>
<g>
<path fill="#00f4fa" d="M429 394.50h12v16.55h-12zM448 394.50h1v16.55h-1zM451 394.50h6v16.55h-6zM459 394.50h16v16.55h-16zM476 394.50h2v16.55h-2z"/>
<path fill="#00fae0" d="M243 394.50h7v16.55h-7zM253 394.50h1v16.55h-1zM262 394.50h2v16.55h-2zM272 394.50h5v16.55h-5zM280 394.50h1v16.55h-1zM299 394.50h12v16.55h-12zM318 394.50h3v16.55h-3zM324 394.50h2v16.55h-2zM327 394.50h2v16.55h-2zM337 394.50h1v16.55h-1zM381 394.50h7v16.55h-7zM389 394.50h2v16.55h-2zM399 394.50h8v16.55h-8zM411 394.50h2v16.55h-2zM414 394.50h4v16.55h-4zM441 394.50h7v16.55h-7zM449 394.50h2v16.55h-2zM457 394.50h2v16.55h-2zM475 394.50h1v16.55h-1zM478 394.50h1v16.55h-1zM497 394.50h16v16.55h-16z"/>
<path fill="#00fca0" d="M250 394.50h3v16.55h-3zM254 394.50h8v16.55h-8zM264 394.50h8v16.55h-8zM277 394.50h3v16.55h-3zM281 394.50h8v16.55h-8zM291 394.50h8v16.55h-8zM311 394.50h7v16.55h-7zM321 394.50h3v16.55h-3zM326 394.50h1v16.55h-1zM329 394.50h8v16.55h-8zM338 394.50h43v16.55h-43zM388 394.50h1v16.55h-1zM391 394.50h8v16.55h-8zM407 394.50h4v16.55h-4zM413 394.50h1v16.55h-1zM418 394.50h11v16.55h-11zM481 394.50h5v16.55h-5zM490 394.50h2v16.55h-2zM565 394.50h3v16.55h-3zM570 394.50h8v16.55h-8z"/>
<path fill="#00fc64" d="M207 394.50h2v16.55h-2zM221 394.50h3v16.55h-3zM232 394.50h2v16.55h-2zM239 394.50h4v16.55h-4zM289 394.50h2v16.55h-2zM479 394.50h2v16.55h-2zM486 394.50h4v16.55h-4zM492 394.50h5v16.55h-5zM513 394.50h15v16.55h-15zM540 394.50h4v16.55h-4zM547 394.50h5v16.55h-5zM557 394.50h8v16.55h-8zM568 394.50h2v16.55h-2z"/>
<path fill="#00fc30" d="M209 394.50h12v16.55h-12zM224 394.50h8v16.55h-8zM234 394.50h5v16.55h-5z"/>
<path fill="#14fc00" d="M180 394.50h27v16.55h-27zM528 394.50h12v16.55h-12zM544 394.50h3v16.55h-3zM552 394.50h5v16.55h-5zM604 394.50h4v16.55h-4zM611 394.50h1v16.55h-1zM619 394.50h1v16.55h-1zM628 394.50h19v16.55h-19z"/>
<path fill="#58fc00" d="M63 394.50h1v16.55h-1zM68 394.50h1v16.55h-1zM74 394.50h41v16.55h-41zM120 394.50h1v16.55h-1zM126 394.50h3v16.55h-3zM172 394.50h8v16.55h-8zM601 394.50h3v16.55h-3zM608 394.50h3v16.55h-3zM612 394.50h7v16.55h-7zM620 394.50h8v16.55h-8z"/>
<path fill="#94f800" d="M55 394.50h3v16.55h-3zM60 394.50h3v16.55h-3zM64 394.50h4v16.55h-4zM69 394.50h5v16.55h-5zM115 394.50h5v16.55h-5zM121 394.50h5v16.55h-5zM163 394.50h9v16.55h-9zM595 394.50h3v16.55h-3zM600 394.50h1v16.55h-1z"/>
<path fill="#d0f000" d="M52 394.50h3v16.55h-3zM58 394.50h2v16.55h-2zM148 394.50h15v16.55h-15zM581 394.50h3v16.55h-3zM598 394.50h2v16.55h-2zM647 394.50h3v16.55h-3z"/>
<path fill="#ffe000" d="M47 394.50h5v16.55h-5zM129 394.50h19v16.55h-19zM590 394.50h5v16.55h-5z"/>
<path fill="#ffc800" d="M578 394.50h3v16.55h-3zM584 394.50h3v16.55h-3zM589 394.50h1v16.55h-1z"/>
<path fill="#ffa400" d="M587 394.50h2v16.55h-2z"/>
</g>
<g>
<path fill="#00d8f8" d="M307 410.25h3v16.55h-3zM311 410.25h4v16.55h-4z"/>
<path fill="#00f4fa" d="M259 410.25h2v16.55h-2zM280 410.25h1v16.55h-1zM304 410.25h3v16.55h-3zM310 410.25h1v16.55h-1zM432 410.25h1v16.55h-1z"/>
<path fill="#00fae0" d="M262 410.25h2v16.55h-2zM277 410.25h1v16.55h-1zM429 410.25h3v16.55h-3zM433 410.25h5v16.55h-5zM448 410.25h6v16.55h-6z"/>
<path fill="#00fca0" d="M261 410.25h1v16.55h-1zM264 410.25h3v16.55h-3zM278 410.25h2v16.55h-2zM281 410.25h2v16.55h-2zM438 410.25h10v16.55h-10z"/>
<path fill="#00fc64" d="M258 410.25h1v16.55h-1zM267 410.25h10v16.55h-10zM283 410.25h5v16.55h-5zM294 410.25h5v16.55h-5zM300 410.25h2v16.55h-2zM343 410.25h37v16.55h-37zM386 410.25h2v16.55h-2zM395 410.25h4v16.55h-4zM402 410.25h1v16.55h-1zM413 410.25h3v16.55h-3zM418 410.25h4v16.55h-4zM497 410.25h5v16.55h-5zM505 410.25h8v16.55h-8zM527 410.25h5v16.55h-5zM533 410.25h5v16.55h-5zM552 410.25h2v16.55h-2zM559 410.25h4v16.55h-4zM565 410.25h3v16.55h-3zM570 410.25h1v16.55h-1zM573 410.25h1v16.55h-1zM639 410.25h8v16.55h-8z"/>
<path fill="#00fc30" d="M247 410.25h6v16.55h-6zM288 410.25h6v16.55h-6zM299 410.25h1v16.55h-1zM302 410.25h2v16.55h-2zM326 410.25h1v16.55h-1zM335 410.25h2v16.55h-2zM338 410.25h5v16.55h-5zM388 410.25h7v16.55h-7zM399 410.25h3v16.55h-3zM403 410.25h10v16.55h-10zM416 410.25h2v16.55h-2zM422 410.25h7v16.55h-7zM454 410.25h3v16.55h-3zM464 410.25h1v16.55h-1zM476 410.25h3v16.55h-3z"/>
<path fill="#14fc00" d="M207 410.25h28v16.55h-28zM237 410.25h10v16.55h-10zM253 410.25h5v16.55h-5zM315 410.25h11v16.55h-11zM327 410.25h8v16.55h-8zM337 410.25h1v16.55h-1zM380 410.25h6v16.55h-6zM457 410.25h7v16.55h-7zM465 410.25h11v16.55h-11zM481 410.25h16v16.55h-16zM502 410.25h3v16.55h-3zM521 410.25h6v16.55h-6zM532 410.25h1v16.55h-1zM538 410.25h14v16.55h-14zM554 410.25h5v16.55h-5zM563 410.25h2v16.55h-2zM568 410.25h2v16.55h-2zM571 410.25h2v16.55h-2zM574 410.25h4v16.55h-4zM604 410.25h35v16.55h-35z"/>
<path fill="#58fc00" d="M188 410.25h3v16.55h-3zM193 410.25h4v16.55h-4zM202 410.25h5v16.55h-5zM235 410.25h2v16.55h-2zM479 410.25h2v16.55h-2zM513 410.25h8v16.55h-8zM603 410.25h1v16.55h-1z"/>
<path fill="#94f800" d="M186 410.25h2v16.55h-2zM191 410.25h2v16.55h-2zM197 410.25h5v16.55h-5zM595 410.25h8v16.55h-8zM647 410.25h3v16.55h-3z"/>
<path fill="#d0f000" d="M175 410.25h11v16.55h-11zM584 410.25h1v16.55h-1zM587 410.25h5v16.55h-5zM593 410.25h2v16.55h-2z"/>
<path fill="#ffe000" d="M93 410.25h2v16.55h-2zM99 410.25h3v16.55h-3zM120 410.25h1v16.55h-1zM123 410.25h2v16.55h-2zM153 410.25h22v16.55h-22zM578 410.25h6v16.55h-6zM585 410.25h2v16.55h-2zM592 410.25h1v16.55h-1z"/>
<path fill="#ffc800" d="M83 410.25h2v16.55h-2zM87 410.25h4v16.55h-4zM95 410.25h4v16.55h-4zM102 410.25h18v16.55h-18zM121 410.25h2v16.55h-2zM125 410.25h3v16.55h-3zM142 410.25h11v16.55h-11z"/>
<path fill="#ffa400" d="M61 410.25h2v16.55h-2zM79 410.25h4v16.55h-4zM85 410.25h2v16.55h-2zM91 410.25h2v16.55h-2z"/>
<path fill="#ff8600" d="M60 410.25h1v16.55h-1zM63 410.25h16v16.55h-16zM129 410.25h8v16.55h-8z"/>
<path fill="#ff6400" d="M57 410.25h3v16.55h-3zM128 410.25h1v16.55h-1zM137 410.25h5v16.55h-5z"/>
<path fill="#ff4c00" d="M47 410.25h10v16.55h-10z"/>
</g>
<g>
<path fill="#00fae0" d="M305 426.00h5v16.55h-5z"/>
<path fill="#00fca0" d="M438 426.00h3v16.55h-3zM443 426.00h3v16.55h-3z"/>
<path fill="#00fc64" d="M429 426.00h9v16.55h-9zM441 426.00h2v16.55h-2zM446 426.00h2v16.55h-2zM452 426.00h10v16.55h-10z"/>
<path fill="#00fc30" d="M251 426.00h2v16.55h-2zM267 426.00h5v16.55h-5zM275 426.00h10v16.55h-10z"/>
<path fill="#14fc00" d="M212 426.00h3v16.55h-3zM218 426.00h2v16.55h-2zM229 426.00h2v16.55h-2zM235 426.00h2v16.55h-2zM243 426.00h8v16.55h-8zM253 426.00h14v16.55h-14zM272 426.00h3v16.55h-3zM285 426.00h20v16.55h-20zM310 426.00h119v16.55h-119zM448 426.00h4v16.55h-4zM464 426.00h4v16.55h-4zM471 426.00h15v16.55h-15zM489 426.00h8v16.55h-8zM498 426.00h7v16.55h-7zM508 426.00h3v16.55h-3zM513 426.00h8v16.55h-8zM522 426.00h2v16.55h-2zM527 426.00h6v16.55h-6zM540 426.00h17v16.55h-17zM562 426.00h6v16.55h-6zM570 426.00h4v16.55h-4zM576 426.00h3v16.55h-3z"/>
<path fill="#58fc00" d="M207 426.00h5v16.55h-5zM215 426.00h3v16.55h-3zM220 426.00h9v16.55h-9zM231 426.00h4v16.55h-4zM237 426.00h6v16.55h-6zM462 426.00h2v16.55h-2zM468 426.00h3v16.55h-3zM486 426.00h3v16.55h-3zM497 426.00h1v16.55h-1zM505 426.00h3v16.55h-3zM511 426.00h2v16.55h-2zM521 426.00h1v16.55h-1zM524 426.00h3v16.55h-3zM533 426.00h7v16.55h-7zM557 426.00h5v16.55h-5zM568 426.00h2v16.55h-2zM574 426.00h2v16.55h-2zM644 426.00h2v16.55h-2z"/>
<path fill="#94f800" d="M185 426.00h1v16.55h-1zM190 426.00h4v16.55h-4zM197 426.00h10v16.55h-10zM641 426.00h3v16.55h-3zM646 426.00h1v16.55h-1z"/>
<path fill="#d0f000" d="M180 426.00h5v16.55h-5zM186 426.00h4v16.55h-4zM194 426.00h3v16.55h-3zM628 426.00h13v16.55h-13zM647 426.00h3v16.55h-3z"/>
<path fill="#ffe000" d="M71 426.00h3v16.55h-3zM85 426.00h3v16.55h-3zM90 426.00h1v16.55h-1zM171 426.00h9v16.55h-9zM595 426.00h3v16.55h-3zM600 426.00h3v16.55h-3zM604 426.00h18v16.55h-18z"/>
<path fill="#ffc800" d="M60 426.00h11v16.55h-11zM74 426.00h11v16.55h-11zM88 426.00h2v16.55h-2zM91 426.00h38v16.55h-38zM148 426.00h23v16.55h-23zM581 426.00h3v16.55h-3zM585 426.00h2v16.55h-2zM590 426.00h2v16.55h-2zM598 426.00h2v16.55h-2zM603 426.00h1v16.55h-1zM622 426.00h6v16.55h-6z"/>
<path fill="#ffa400" d="M47 426.00h13v16.55h-13zM129 426.00h19v16.55h-19zM587 426.00h2v16.55h-2z"/>
<path fill="#ff8600" d="M579 426.00h2v16.55h-2zM584 426.00h1v16.55h-1zM589 426.00h1v16.55h-1zM592 426.00h3v16.55h-3z"/>
</g>
<g>
<path fill="#00b0f8" d="M429 441.75h1v16.55h-1zM433 441.75h7v16.55h-7zM452 441.75h4v16.55h-4zM457 441.75h10v16.55h-10zM478 441.75h3v16.55h-3z"/>
<path fill="#00d8f8" d="M313 441.75h2v16.55h-2zM430 441.75h3v16.55h-3zM440 441.75h5v16.55h-5zM446 441.75h6v16.55h-6zM456 441.75h1v16.55h-1zM467 441.75h11v16.55h-11zM516 441.75h5v16.55h-5z"/>
<path fill="#00f4fa" d="M245 441.75h2v16.55h-2zM253 441.75h1v16.55h-1zM266 441.75h7v16.55h-7zM281 441.75h2v16.55h-2zM288 441.75h1v16.55h-1zM294 441.75h2v16.55h-2zM299 441.75h1v16.55h-1zM304 441.75h4v16.55h-4zM311 441.75h2v16.55h-2zM326 441.75h4v16.55h-4zM343 441.75h3v16.55h-3zM348 441.75h2v16.55h-2zM353 441.75h1v16.55h-1zM357 441.75h2v16.55h-2zM361 441.75h1v16.55h-1zM367 441.75h6v16.55h-6zM375 441.75h6v16.55h-6zM386 441.75h5v16.55h-5zM394 441.75h16v16.55h-16zM411 441.75h8v16.55h-8zM421 441.75h8v16.55h-8zM445 441.75h1v16.55h-1zM481 441.75h35v16.55h-35zM521 441.75h6v16.55h-6zM530 441.75h2v16.55h-2zM535 441.75h1v16.55h-1zM544 441.75h5v16.55h-5zM566 441.75h2v16.55h-2zM574 441.75h2v16.55h-2z"/>
<path fill="#00fae0" d="M235 441.75h2v16.55h-2zM242 441.75h3v16.55h-3zM247 441.75h6v16.55h-6zM254 441.75h8v16.55h-8zM277 441.75h4v16.55h-4zM283 441.75h2v16.55h-2zM286 441.75h2v16.55h-2zM289 441.75h5v16.55h-5zM296 441.75h3v16.55h-3zM300 441.75h4v16.55h-4zM315 441.75h11v16.55h-11zM330 441.75h13v16.55h-13zM346 441.75h2v16.55h-2zM350 441.75h3v16.55h-3zM354 441.75h3v16.55h-3zM359 441.75h2v16.55h-2zM362 441.75h5v16.55h-5zM373 441.75h2v16.55h-2zM381 441.75h5v16.55h-5zM391 441.75h3v16.55h-3zM410 441.75h1v16.55h-1zM419 441.75h2v16.55h-2zM527 441.75h3v16.55h-3zM532 441.75h3v16.55h-3zM536 441.75h8v16.55h-8zM549 441.75h17v16.55h-17zM568 441.75h6v16.55h-6zM576 441.75h3v16.55h-3z"/>
<path fill="#00fca0" d="M207 441.75h28v16.55h-28zM237 441.75h5v16.55h-5z"/>
<path fill="#00fc64" d="M193 441.75h14v16.55h-14zM262 441.75h4v16.55h-4zM273 441.75h4v16.55h-4zM285 441.75h1v16.55h-1zM642 441.75h5v16.55h-5z"/>
<path fill="#14fc00" d="M71 441.75h3v16.55h-3zM95 441.75h6v16.55h-6zM128 441.75h1v16.55h-1zM180 441.75h13v16.55h-13zM308 441.75h3v16.55h-3zM600 441.75h42v16.55h-42z"/>
<path fill="#58fc00" d="M64 441.75h7v16.55h-7zM74 441.75h21v16.55h-21zM102 441.75h4v16.55h-4zM107 441.75h2v16.55h-2zM110 441.75h18v16.55h-18zM172 441.75h8v16.55h-8zM595 441.75h5v16.55h-5z"/>
<path fill="#94f800" d="M58 441.75h6v16.55h-6zM101 441.75h1v16.55h-1zM106 441.75h1v16.55h-1zM109 441.75h1v16.55h-1zM169 441.75h3v16.55h-3z"/>
<path fill="#d0f000" d="M592 441.75h1v16.55h-1zM647 441.75h3v16.55h-3z"/>
<path fill="#ffe000" d="M50 441.75h8v16.55h-8zM156 441.75h13v16.55h-13zM590 441.75h2v16.55h-2zM593 441.75h2v16.55h-2z"/>
<path fill="#ffc800" d="M579 441.75h2v16.55h-2z"/>
<path fill="#ffa400" d="M47 441.75h3v16.55h-3zM148 441.75h5v16.55h-5zM155 441.75h1v16.55h-1zM581 441.75h3v16.55h-3zM587 441.75h2v16.55h-2z"/>
<path fill="#ff8600" d="M153 441.75h2v16.55h-2z"/>
<path fill="#ff6400" d="M589 441.75h1v16.55h-1z"/>
<path fill="#ff4c00" d="M129 441.75h19v16.55h-19zM584 441.75h3v16.55h-3z"/>
</g>
<g>
<path fill="#00f4fa" d="M304 457.50h4v16.55h-4z"/>
<path fill="#00fae0" d="M262 457.50h2v16.55h-2zM266 457.50h1v16.55h-1zM272 457.50h1v16.55h-1zM277 457.50h1v16.55h-1z"/>
<path fill="#00fc64" d="M275 457.50h2v16.55h-2zM281 457.50h2v16.55h-2zM308 457.50h3v16.55h-3zM430 457.50h7v16.55h-7zM438 457.50h7v16.55h-7zM446 457.50h5v16.55h-5zM452 457.50h2v16.55h-2zM456 457.50h4v16.55h-4zM467 457.50h3v16.55h-3zM471 457.50h2v16.55h-2zM476 457.50h3v16.55h-3z"/>
<path fill="#14fc00" d="M253 457.50h9v16.55h-9zM264 457.50h2v16.55h-2zM267 457.50h5v16.55h-5zM273 457.50h2v16.55h-2zM278 457.50h3v16.55h-3zM283 457.50h21v16.55h-21zM311 457.50h4v16.55h-4zM326 457.50h104v16.55h-104zM437 457.50h1v16.55h-1zM445 457.50h1v16.55h-1zM451 457.50h1v16.55h-1zM454 457.50h2v16.55h-2zM460 457.50h7v16.55h-7zM470 457.50h1v16.55h-1zM473 457.50h3v16.55h-3zM505 457.50h1v16.55h-1zM528 457.50h4v16.55h-4zM536 457.50h5v16.55h-5zM543 457.50h9v16.55h-9zM557 457.50h21v16.55h-21z"/>
<path fill="#58fc00" d="M237 457.50h16v16.55h-16zM315 457.50h11v16.55h-11zM497 457.50h8v16.55h-8zM506 457.50h7v16.55h-7zM527 457.50h1v16.55h-1zM532 457.50h4v16.55h-4zM541 457.50h2v16.55h-2zM552 457.50h5v16.55h-5zM578 457.50h1v16.55h-1z"/>
<path fill="#94f800" d="M202 457.50h35v16.55h-35zM494 457.50h1v16.55h-1zM513 457.50h1v16.55h-1zM516 457.50h5v16.55h-5zM524 457.50h3v16.55h-3zM636 457.50h5v16.55h-5zM644 457.50h2v16.55h-2z"/>
<path fill="#d0f000" d="M180 457.50h22v16.55h-22zM479 457.50h15v16.55h-15zM495 457.50h2v16.55h-2zM514 457.50h2v16.55h-2zM521 457.50h3v16.55h-3zM622 457.50h1v16.55h-1zM625 457.50h3v16.55h-3zM630 457.50h1v16.55h-1zM641 457.50h3v16.55h-3z"/>
<path fill="#ffe000" d="M74 457.50h6v16.55h-6zM171 457.50h9v16.55h-9zM595 457.50h8v16.55h-8zM612 457.50h2v16.55h-2zM616 457.50h1v16.55h-1zM623 457.50h2v16.55h-2zM628 457.50h2v16.55h-2zM631 457.50h5v16.55h-5z"/>
<path fill="#ffc800" d="M71 457.50h3v16.55h-3zM80 457.50h21v16.55h-21zM106 457.50h1v16.55h-1zM117 457.50h1v16.55h-1zM125 457.50h1v16.55h-1zM128 457.50h1v16.55h-1zM131 457.50h11v16.55h-11zM144 457.50h4v16.55h-4zM150 457.50h5v16.55h-5zM156 457.50h15v16.55h-15zM603 457.50h9v16.55h-9zM614 457.50h2v16.55h-2zM617 457.50h5v16.55h-5z"/>
<path fill="#ffa400" d="M49 457.50h4v16.55h-4zM55 457.50h5v16.55h-5zM61 457.50h10v16.55h-10zM101 457.50h5v16.55h-5zM107 457.50h10v16.55h-10zM118 457.50h7v16.55h-7zM126 457.50h2v16.55h-2zM129 457.50h2v16.55h-2zM142 457.50h2v16.55h-2zM148 457.50h2v16.55h-2zM155 457.50h1v16.55h-1zM579 457.50h8v16.55h-8zM646 457.50h4v16.55h-4z"/>
<path fill="#ff8600" d="M47 457.50h2v16.55h-2zM53 457.50h2v16.55h-2zM60 457.50h1v16.55h-1zM587 457.50h8v16.55h-8z"/>
</g>
<g>
<path fill="#14fc00" d="M269 473.25h1v15.75h-1zM281 473.25h5v15.75h-5zM289 473.25h2v15.75h-2zM292 473.25h2v15.75h-2zM299 473.25h3v15.75h-3zM305 473.25h2v15.75h-2zM370 473.25h11v15.75h-11zM391 473.25h1v15.75h-1zM407 473.25h1v15.75h-1zM411 473.25h2v15.75h-2zM416 473.25h2v15.75h-2zM427 473.25h3v15.75h-3zM432 473.25h3v15.75h-3zM441 473.25h5v15.75h-5zM448 473.25h6v15.75h-6z"/>
<path fill="#58fc00" d="M258 473.25h11v15.75h-11zM270 473.25h11v15.75h-11zM286 473.25h3v15.75h-3zM291 473.25h1v15.75h-1zM294 473.25h5v15.75h-5zM302 473.25h3v15.75h-3zM307 473.25h3v15.75h-3zM342 473.25h1v15.75h-1zM351 473.25h2v15.75h-2zM354 473.25h2v15.75h-2zM359 473.25h2v15.75h-2zM364 473.25h6v15.75h-6zM388 473.25h1v15.75h-1zM392 473.25h3v15.75h-3zM397 473.25h10v15.75h-10zM413 473.25h3v15.75h-3zM418 473.25h8v15.75h-8zM430 473.25h2v15.75h-2zM435 473.25h5v15.75h-5zM498 473.25h4v15.75h-4zM505 473.25h6v15.75h-6z"/>
<path fill="#94f800" d="M248 473.25h10v15.75h-10zM318 473.25h1v15.75h-1zM323 473.25h3v15.75h-3zM330 473.25h4v15.75h-4zM335 473.25h2v15.75h-2zM338 473.25h4v15.75h-4zM343 473.25h8v15.75h-8zM353 473.25h1v15.75h-1zM356 473.25h3v15.75h-3zM361 473.25h3v15.75h-3zM389 473.25h2v15.75h-2zM395 473.25h2v15.75h-2zM408 473.25h3v15.75h-3zM426 473.25h1v15.75h-1zM440 473.25h1v15.75h-1zM446 473.25h2v15.75h-2zM454 473.25h5v15.75h-5zM497 473.25h1v15.75h-1zM502 473.25h3v15.75h-3zM511 473.25h2v15.75h-2zM551 473.25h1v15.75h-1z"/>
<path fill="#d0f000" d="M240 473.25h8v15.75h-8zM311 473.25h7v15.75h-7zM319 473.25h4v15.75h-4zM326 473.25h4v15.75h-4zM334 473.25h1v15.75h-1zM337 473.25h1v15.75h-1zM381 473.25h7v15.75h-7zM459 473.25h12v15.75h-12zM487 473.25h3v15.75h-3zM494 473.25h3v15.75h-3zM535 473.25h11v15.75h-11zM547 473.25h4v15.75h-4zM554 473.25h5v15.75h-5zM560 473.25h2v15.75h-2zM635 473.25h7v15.75h-7z"/>
<path fill="#ffe000" d="M178 473.25h2v15.75h-2zM191 473.25h3v15.75h-3zM207 473.25h27v15.75h-27zM237 473.25h3v15.75h-3zM310 473.25h1v15.75h-1zM471 473.25h8v15.75h-8zM484 473.25h3v15.75h-3zM490 473.25h4v15.75h-4zM521 473.25h14v15.75h-14zM546 473.25h1v15.75h-1zM552 473.25h2v15.75h-2zM559 473.25h1v15.75h-1zM566 473.25h5v15.75h-5zM617 473.25h10v15.75h-10zM631 473.25h4v15.75h-4z"/>
<path fill="#ffc800" d="M180 473.25h11v15.75h-11zM194 473.25h13v15.75h-13zM479 473.25h2v15.75h-2zM563 473.25h3v15.75h-3zM571 473.25h5v15.75h-5zM627 473.25h4v15.75h-4zM642 473.25h4v15.75h-4z"/>
<path fill="#ffa400" d="M159 473.25h2v15.75h-2zM164 473.25h7v15.75h-7zM172 473.25h2v15.75h-2zM177 473.25h1v15.75h-1zM234 473.25h3v15.75h-3zM481 473.25h3v15.75h-3zM513 473.25h3v15.75h-3zM517 473.25h2v15.75h-2zM562 473.25h1v15.75h-1zM597 473.25h9v15.75h-9zM609 473.25h5v15.75h-5zM616 473.25h1v15.75h-1zM646 473.25h4v15.75h-4z"/>
<path fill="#ff8600" d="M99 473.25h2v15.75h-2zM109 473.25h1v15.75h-1zM120 473.25h1v15.75h-1zM126 473.25h19v15.75h-19zM147 473.25h1v15.75h-1zM156 473.25h3v15.75h-3zM161 473.25h3v15.75h-3zM171 473.25h1v15.75h-1zM174 473.25h3v15.75h-3zM516 473.25h1v15.75h-1zM519 473.25h2v15.75h-2zM581 473.25h1v15.75h-1zM584 473.25h8v15.75h-8zM595 473.25h2v15.75h-2zM606 473.25h3v15.75h-3zM614 473.25h2v15.75h-2z"/>
<path fill="#ff6400" d="M61 473.25h15v15.75h-15zM87 473.25h1v15.75h-1zM90 473.25h1v15.75h-1zM101 473.25h8v15.75h-8zM110 473.25h10v15.75h-10zM121 473.25h5v15.75h-5zM145 473.25h2v15.75h-2zM148 473.25h8v15.75h-8zM576 473.25h5v15.75h-5zM582 473.25h2v15.75h-2zM592 473.25h3v15.75h-3z"/>
<path fill="#ff4c00" d="M47 473.25h14v15.75h-14zM76 473.25h11v15.75h-11zM88 473.25h2v15.75h-2zM91 473.25h8v15.75h-8z"/>
</g>
<rect x="47" y="378.30" width="603" height="0.9" fill="#fff" opacity="0.4"/>
<rect x="47" y="394.05" width="603" height="0.9" fill="#fff" opacity="0.4"/>
<rect x="47" y="409.80" width="603" height="0.9" fill="#fff" opacity="0.4"/>
<rect x="47" y="425.55" width="603" height="0.9" fill="#fff" opacity="0.4"/>
<rect x="47" y="441.30" width="603" height="0.9" fill="#fff" opacity="0.4"/>
<rect x="47" y="457.05" width="603" height="0.9" fill="#fff" opacity="0.4"/>
<rect x="47" y="472.80" width="603" height="0.9" fill="#fff" opacity="0.4"/>
<rect x="394.2" y="363.0" width="1" height="126" fill="#f4fff4" opacity="0.85"/>
<rect x="46" y="362.10" width="605" height="127.80" fill="none" stroke="#000" stroke-width="1.8"/>
<rect x="43" y="370.12" width="2.5" height="1.5" fill="#000"/>
<rect x="651.5" y="370.12" width="2.5" height="1.5" fill="#000"/>
<text x="41.3" y="374.48" font-size="12" font-weight="bold" text-anchor="end" fill="#111">S4</text>
<rect x="43" y="385.88" width="2.5" height="1.5" fill="#000"/>
<rect x="651.5" y="385.88" width="2.5" height="1.5" fill="#000"/>
<text x="41.3" y="390.23" font-size="12" font-weight="bold" text-anchor="end" fill="#111">S5</text>
<rect x="43" y="401.62" width="2.5" height="1.5" fill="#000"/>
<rect x="651.5" y="401.62" width="2.5" height="1.5" fill="#000"/>
<text x="41.3" y="405.98" font-size="12" font-weight="bold" text-anchor="end" fill="#111">S6</text>
<rect x="43" y="417.38" width="2.5" height="1.5" fill="#000"/>
<rect x="651.5" y="417.38" width="2.5" height="1.5" fill="#000"/>
<text x="41.3" y="421.73" font-size="12" font-weight="bold" text-anchor="end" fill="#111">S7</text>
<rect x="43" y="433.12" width="2.5" height="1.5" fill="#000"/>
<rect x="651.5" y="433.12" width="2.5" height="1.5" fill="#000"/>
<text x="41.3" y="437.48" font-size="12" font-weight="bold" text-anchor="end" fill="#111">S8</text>
<rect x="43" y="448.88" width="2.5" height="1.5" fill="#000"/>
<rect x="651.5" y="448.88" width="2.5" height="1.5" fill="#000"/>
<text x="41.3" y="453.23" font-size="12" font-weight="bold" text-anchor="end" fill="#111">S9</text>
<rect x="43" y="464.62" width="2.5" height="1.5" fill="#000"/>
<rect x="651.5" y="464.62" width="2.5" height="1.5" fill="#000"/>
<text x="41.3" y="468.98" font-size="12" font-weight="bold" text-anchor="end" fill="#111">S10</text>
<rect x="43" y="480.38" width="2.5" height="1.5" fill="#000"/>
<rect x="651.5" y="480.38" width="2.5" height="1.5" fill="#000"/>
<text x="41.3" y="484.73" font-size="12" font-weight="bold" text-anchor="end" fill="#111">S11</text>
<rect x="45.2" y="489.9" width="1.5" height="2.5" fill="#000"/>
<rect x="146.7" y="489.9" width="1.5" height="2.5" fill="#000"/>
<rect x="248.1" y="489.9" width="1.5" height="2.5" fill="#000"/>
<rect x="349.4" y="489.9" width="1.5" height="2.5" fill="#000"/>
<rect x="450.8" y="489.9" width="1.5" height="2.5" fill="#000"/>
<rect x="552.1" y="489.9" width="1.5" height="2.5" fill="#000"/>
<rect x="650.2" y="489.9" width="1.5" height="2.5" fill="#000"/>
<text x="46.0" y="503.5" font-size="12" font-weight="bold" text-anchor="middle" fill="#111">8/13/2021</text>
<text x="147.4" y="503.5" font-size="12" font-weight="bold" text-anchor="middle" fill="#111">10/16/2021</text>
<text x="248.8" y="503.5" font-size="12" font-weight="bold" text-anchor="middle" fill="#111">12/19/2021</text>
<text x="350.2" y="503.5" font-size="12" font-weight="bold" text-anchor="middle" fill="#111">2/21/2022</text>
<text x="451.5" y="503.5" font-size="12" font-weight="bold" text-anchor="middle" fill="#111">4/26/2022</text>
<text x="552.9" y="503.5" font-size="12" font-weight="bold" text-anchor="middle" fill="#111">6/29/2022</text>
<text x="651.0" y="503.5" font-size="12" font-weight="bold" text-anchor="middle" fill="#111">8/30/2022</text>
<text x="48.5" y="377.8" font-size="13.5" font-weight="bold" fill="#111">60<tspan font-size="9.5" font-weight="normal" dy="-4.2">o</tspan></text>
<text x="1.3" y="355.8" font-size="13.5" font-weight="bold" fill="#111">(c)</text>
<path d="M16.2 366.0 L16.2 407.2" stroke="#000" stroke-width="2.5"/>
<path d="M16.2 363.0 l-4.5 5.3 h9 z M16.2 410.2 l-4.5 -5.3 h9 z" fill="#000"/>
<text transform="translate(10.1,385.1) rotate(-90)" font-size="11.5" font-weight="bold" text-anchor="middle" fill="#111">Up</text>
<path d="M16.2 413.2 L16.2 454.5" stroke="#000" stroke-width="2.5"/>
<path d="M16.2 410.2 l-4.5 5.3 h9 z M16.2 457.5 l-4.5 -5.3 h9 z" fill="#000"/>
<text transform="translate(10.1,433.4) rotate(-90)" font-size="11.5" font-weight="bold" text-anchor="middle" fill="#111">Mid</text>
<path d="M16.2 460.5 L16.2 486.0" stroke="#000" stroke-width="2.5"/>
<path d="M16.2 457.5 l-4.5 5.3 h9 z M16.2 489.0 l-4.5 -5.3 h9 z" fill="#000"/>
<text transform="translate(10.1,469.8) rotate(-90)" font-size="11.5" font-weight="bold" text-anchor="middle" fill="#111">Toe</text>
<text x="348.5" y="521.5" font-size="12" font-weight="bold" text-anchor="middle" fill="#111">Date</text>
</svg></body></html>
